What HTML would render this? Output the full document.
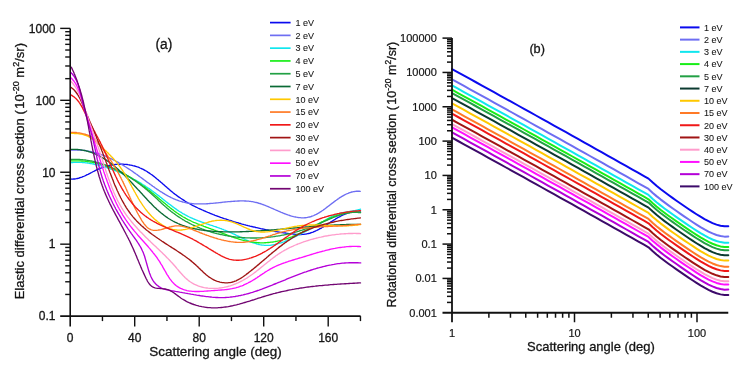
<!DOCTYPE html>
<html><head><meta charset="utf-8"><style>
html,body{margin:0;padding:0;background:#fff;}
svg{display:block;will-change:transform;}
text{font-family:"Liberation Sans",sans-serif;fill:#151515;stroke:#151515;stroke-width:0.3px;}
.ax{stroke:#111;stroke-width:1.6;}
.tk{stroke:#111;stroke-width:1.4;}
.axb{stroke:#111;stroke-width:1.8;}
.tkb{stroke:#111;stroke-width:1.5;}
.ta{font-size:12px;}
.tb{font-size:11px;stroke-width:0.2px;}
.lg{font-size:9px;stroke-width:0.08px;}
.ca{fill:none;stroke-width:1.35;stroke-linejoin:round;stroke-linecap:round;}
.cb{fill:none;stroke-width:2;stroke-linejoin:round;stroke-linecap:round;}
</style></head><body>
<svg width="744" height="372" viewBox="0 0 744 372">
<rect width="744" height="372" fill="#fff"/>
<path d="M70.7,179.0 71.6,179.1 72.6,179.1 73.6,179.0 74.5,179.0 75.5,178.8 76.4,178.7 77.3,178.5 78.2,178.3 79.2,178.0 80.1,177.7 81.0,177.4 81.9,177.1 82.8,176.7 83.7,176.4 84.6,176.0 85.4,175.6 86.3,175.2 87.2,174.7 88.1,174.3 89.0,173.8 89.9,173.4 90.8,172.9 91.6,172.5 92.5,172.0 93.4,171.5 94.3,171.1 95.2,170.6 96.1,170.2 97.0,169.7 97.9,169.3 98.8,168.9 99.8,168.5 100.7,168.1 101.6,167.8 102.6,167.4 103.5,167.1 104.5,166.8 105.4,166.5 106.4,166.2 107.4,165.9 108.3,165.7 109.3,165.5 110.3,165.3 111.3,165.1 112.3,164.9 113.2,164.8 114.2,164.6 115.2,164.5 116.2,164.4 117.2,164.3 118.2,164.3 119.2,164.2 120.2,164.2 121.2,164.2 122.1,164.2 123.1,164.2 124.1,164.3 125.1,164.3 126.1,164.4 127.0,164.5 128.0,164.7 129.0,164.8 129.9,165.0 130.9,165.1 131.9,165.3 132.8,165.6 133.7,165.8 134.7,166.0 135.6,166.3 136.5,166.6 137.4,166.9 138.4,167.2 139.3,167.6 140.1,168.0 141.0,168.4 141.9,168.8 142.8,169.2 143.6,169.6 144.5,170.1 145.3,170.6 146.2,171.0 147.0,171.5 147.8,172.1 148.6,172.6 149.4,173.1 150.2,173.7 151.0,174.3 151.8,174.8 152.6,175.4 153.4,176.0 154.2,176.6 155.0,177.3 155.8,177.9 156.5,178.5 157.3,179.2 158.1,179.8 158.8,180.5 159.6,181.1 160.4,181.8 161.1,182.4 161.9,183.1 162.7,183.8 163.4,184.4 164.2,185.1 164.9,185.8 165.7,186.4 166.5,187.1 167.2,187.8 168.0,188.4 168.8,189.1 169.5,189.8 170.3,190.4 171.1,191.1 171.9,191.7 172.6,192.3 173.4,193.0 174.2,193.6 175.0,194.2 175.8,194.8 176.6,195.4 177.4,196.0 178.2,196.6 179.0,197.2 179.9,197.7 180.7,198.3 181.5,198.8 182.4,199.4 183.2,199.9 184.0,200.4 184.9,201.0 185.7,201.5 186.6,202.0 187.4,202.5 188.3,203.0 189.1,203.4 190.0,203.9 190.9,204.4 191.7,204.9 192.6,205.3 193.5,205.8 194.4,206.2 195.2,206.7 196.1,207.1 197.0,207.5 197.9,208.0 198.8,208.4 199.7,208.8 200.6,209.2 201.5,209.6 202.4,210.0 203.3,210.4 204.2,210.8 205.1,211.2 206.0,211.6 206.9,212.0 207.8,212.4 208.7,212.7 209.6,213.1 210.5,213.5 211.4,213.8 212.3,214.2 213.3,214.6 214.2,214.9 215.1,215.3 216.0,215.6 216.9,216.0 217.9,216.3 218.8,216.6 219.7,217.0 220.6,217.3 221.6,217.6 222.5,218.0 223.4,218.3 224.3,218.6 225.3,218.9 226.2,219.2 227.1,219.5 228.1,219.8 229.0,220.1 230.0,220.4 230.9,220.7 231.8,221.0 232.8,221.3 233.7,221.6 234.7,221.9 235.6,222.2 236.6,222.5 237.5,222.7 238.5,223.0 239.4,223.3 240.4,223.5 241.3,223.8 242.3,224.1 243.2,224.3 244.2,224.6 245.2,224.8 246.1,225.1 247.1,225.3 248.0,225.6 249.0,225.8 250.0,226.1 250.9,226.3 251.9,226.5 252.9,226.8 253.8,227.0 254.8,227.2 255.8,227.5 256.8,227.7 257.7,227.9 258.7,228.1 259.7,228.3 260.7,228.6 261.7,228.8 262.6,229.0 263.6,229.2 264.6,229.4 265.6,229.6 266.6,229.8 267.6,230.0 268.5,230.2 269.5,230.4 270.5,230.6 271.5,230.8 272.5,230.9 273.5,231.1 274.5,231.3 275.5,231.5 276.5,231.6 277.5,231.8 278.5,232.0 279.5,232.1 280.4,232.3 281.4,232.5 282.4,232.6 283.4,232.8 284.4,232.9 285.4,233.0 286.4,233.2 287.4,233.3 288.4,233.5 289.4,233.6 290.4,233.7 291.4,233.8 292.4,233.9 293.3,234.1 294.3,234.2 295.3,234.3 296.3,234.3 297.3,234.4 298.2,234.4 299.2,234.5 300.2,234.5 301.1,234.5 302.1,234.4 303.1,234.4 304.0,234.3 304.9,234.2 305.9,234.1 306.8,233.9 307.7,233.7 308.6,233.5 309.5,233.3 310.4,233.0 311.3,232.7 312.2,232.4 313.1,232.1 313.9,231.7 314.8,231.3 315.7,230.9 316.6,230.5 317.4,230.1 318.3,229.7 319.1,229.2 320.0,228.7 320.8,228.3 321.7,227.8 322.5,227.3 323.4,226.8 324.2,226.2 325.0,225.7 325.9,225.2 326.7,224.7 327.6,224.1 328.4,223.6 329.2,223.0 330.1,222.5 330.9,221.9 331.8,221.4 332.6,220.9 333.5,220.3 334.3,219.8 335.2,219.3 336.0,218.7 336.9,218.2 337.7,217.7 338.6,217.2 339.5,216.8 340.4,216.3 341.2,215.8 342.1,215.4 343.0,215.0 343.9,214.6 344.8,214.2 345.7,213.8 346.6,213.5 347.6,213.2 348.5,212.9 349.4,212.7 350.4,212.4 351.4,212.2 352.3,212.1 353.3,211.9 354.3,211.8 355.3,211.8 356.3,211.7 357.4,211.8 358.4,211.8 359.5,211.9 360.5,212.0" stroke="#0a0aee" class="ca"/>
<path d="M70.4,150.1 71.4,150.1 72.4,150.0 73.5,150.0 74.5,150.0 75.5,150.0 76.5,150.0 77.6,150.0 78.6,150.0 79.6,150.1 80.6,150.2 81.6,150.2 82.5,150.3 83.5,150.4 84.5,150.5 85.5,150.7 86.4,150.8 87.4,151.0 88.4,151.1 89.3,151.3 90.3,151.5 91.2,151.7 92.2,151.9 93.1,152.2 94.1,152.4 95.0,152.6 95.9,152.9 96.9,153.2 97.8,153.4 98.7,153.7 99.6,154.0 100.5,154.3 101.5,154.7 102.4,155.0 103.3,155.3 104.2,155.7 105.1,156.0 106.0,156.4 106.9,156.8 107.7,157.2 108.6,157.6 109.5,158.0 110.4,158.4 111.3,158.8 112.1,159.2 113.0,159.7 113.9,160.1 114.7,160.5 115.6,161.0 116.5,161.5 117.3,161.9 118.2,162.4 119.0,162.9 119.9,163.4 120.7,163.9 121.6,164.4 122.4,164.9 123.3,165.4 124.1,165.9 125.0,166.5 125.8,167.0 126.6,167.5 127.5,168.1 128.3,168.6 129.1,169.2 130.0,169.7 130.8,170.3 131.6,170.8 132.5,171.4 133.3,172.0 134.1,172.6 134.9,173.1 135.7,173.7 136.6,174.3 137.4,174.9 138.2,175.5 139.0,176.1 139.8,176.7 140.6,177.3 141.5,177.9 142.3,178.5 143.1,179.1 143.9,179.7 144.7,180.3 145.5,180.9 146.3,181.5 147.1,182.1 148.0,182.7 148.8,183.3 149.6,183.9 150.4,184.5 151.2,185.0 152.0,185.6 152.8,186.2 153.7,186.8 154.5,187.4 155.3,188.0 156.1,188.5 156.9,189.1 157.8,189.6 158.6,190.2 159.4,190.7 160.2,191.3 161.1,191.8 161.9,192.3 162.7,192.9 163.6,193.4 164.4,193.9 165.2,194.4 166.1,194.9 166.9,195.3 167.8,195.8 168.6,196.3 169.5,196.7 170.3,197.1 171.2,197.6 172.1,198.0 172.9,198.4 173.8,198.8 174.7,199.2 175.6,199.5 176.4,199.9 177.3,200.2 178.2,200.5 179.1,200.9 180.0,201.2 180.9,201.4 181.8,201.7 182.7,202.0 183.7,202.2 184.6,202.4 185.5,202.6 186.4,202.8 187.4,203.0 188.3,203.1 189.3,203.3 190.2,203.4 191.2,203.5 192.1,203.6 193.1,203.7 194.0,203.8 195.0,203.8 196.0,203.9 197.0,203.9 197.9,203.9 198.9,203.9 199.9,203.9 200.9,203.9 201.9,203.9 202.9,203.9 203.9,203.9 204.9,203.8 205.9,203.8 206.9,203.7 207.9,203.7 208.9,203.6 209.9,203.5 210.9,203.4 211.9,203.3 212.9,203.3 213.9,203.2 214.9,203.1 215.9,203.0 216.9,202.9 218.0,202.8 219.0,202.7 220.0,202.6 221.0,202.5 222.0,202.4 223.0,202.2 224.0,202.1 225.0,202.0 226.0,201.9 227.0,201.8 228.0,201.7 229.0,201.6 230.0,201.6 231.0,201.5 232.0,201.4 233.0,201.3 234.0,201.2 235.0,201.2 236.0,201.1 237.0,201.1 238.0,201.0 239.0,201.0 239.9,200.9 240.9,200.9 241.9,200.9 242.9,200.9 243.8,200.9 244.8,201.0 245.8,201.0 246.7,201.1 247.7,201.1 248.7,201.2 249.6,201.3 250.6,201.4 251.5,201.6 252.5,201.7 253.4,201.9 254.4,202.1 255.3,202.3 256.2,202.5 257.2,202.7 258.1,203.0 259.0,203.3 260.0,203.5 260.9,203.8 261.8,204.2 262.8,204.5 263.7,204.8 264.6,205.2 265.5,205.5 266.4,205.9 267.4,206.3 268.3,206.7 269.2,207.1 270.1,207.5 271.0,207.9 272.0,208.3 272.9,208.7 273.8,209.1 274.7,209.5 275.6,209.9 276.6,210.3 277.5,210.7 278.4,211.1 279.4,211.5 280.3,211.9 281.2,212.3 282.2,212.7 283.1,213.1 284.0,213.5 285.0,213.8 285.9,214.2 286.9,214.5 287.8,214.9 288.8,215.2 289.7,215.5 290.7,215.8 291.6,216.1 292.6,216.3 293.6,216.6 294.5,216.8 295.5,217.0 296.4,217.2 297.4,217.3 298.3,217.5 299.3,217.6 300.2,217.7 301.2,217.8 302.1,217.8 303.0,217.8 303.9,217.8 304.9,217.7 305.8,217.7 306.7,217.6 307.6,217.4 308.5,217.2 309.4,217.0 310.3,216.8 311.2,216.5 312.0,216.2 312.9,215.9 313.8,215.5 314.6,215.1 315.5,214.7 316.3,214.3 317.2,213.8 318.0,213.4 318.9,212.9 319.7,212.4 320.5,211.8 321.4,211.3 322.2,210.7 323.0,210.2 323.8,209.6 324.7,209.0 325.5,208.4 326.3,207.8 327.1,207.1 327.9,206.5 328.8,205.9 329.6,205.3 330.4,204.6 331.2,204.0 332.0,203.4 332.9,202.7 333.7,202.1 334.5,201.5 335.3,200.9 336.2,200.3 337.0,199.7 337.8,199.1 338.7,198.5 339.5,197.9 340.3,197.4 341.2,196.9 342.0,196.3 342.9,195.8 343.8,195.3 344.6,194.9 345.5,194.4 346.4,194.0 347.2,193.6 348.1,193.3 349.0,192.9 349.9,192.6 350.8,192.3 351.7,192.0 352.7,191.8 353.6,191.6 354.5,191.5 355.5,191.3 356.4,191.2 357.4,191.2 358.4,191.2 359.3,191.2 360.3,191.3" stroke="#6e6ef2" class="ca"/>
<path d="M70.5,162.7 71.5,162.6 72.5,162.5 73.6,162.4 74.6,162.4 75.6,162.3 76.6,162.3 77.6,162.3 78.6,162.3 79.6,162.4 80.6,162.4 81.6,162.4 82.6,162.5 83.6,162.6 84.6,162.7 85.6,162.8 86.6,162.9 87.6,163.0 88.6,163.2 89.5,163.3 90.5,163.5 91.5,163.7 92.5,163.9 93.5,164.0 94.4,164.3 95.4,164.5 96.4,164.7 97.3,164.9 98.3,165.2 99.3,165.4 100.2,165.7 101.2,165.9 102.1,166.2 103.1,166.5 104.0,166.8 105.0,167.1 105.9,167.4 106.9,167.7 107.8,168.0 108.8,168.3 109.7,168.6 110.6,169.0 111.6,169.3 112.5,169.6 113.4,170.0 114.4,170.3 115.3,170.7 116.2,171.0 117.1,171.4 118.1,171.8 119.0,172.2 119.9,172.6 120.8,172.9 121.7,173.3 122.6,173.7 123.5,174.1 124.4,174.6 125.3,175.0 126.2,175.4 127.1,175.8 128.0,176.3 128.9,176.7 129.8,177.2 130.7,177.6 131.6,178.1 132.5,178.5 133.3,179.0 134.2,179.5 135.1,179.9 136.0,180.4 136.8,180.9 137.7,181.4 138.6,181.9 139.4,182.4 140.3,182.9 141.1,183.4 142.0,184.0 142.8,184.5 143.7,185.0 144.5,185.6 145.3,186.1 146.2,186.7 147.0,187.2 147.8,187.8 148.7,188.3 149.5,188.9 150.3,189.5 151.1,190.1 151.9,190.7 152.7,191.3 153.5,191.9 154.4,192.5 155.2,193.1 156.0,193.7 156.7,194.3 157.5,194.9 158.3,195.5 159.1,196.1 159.9,196.8 160.7,197.4 161.5,198.0 162.3,198.6 163.1,199.3 163.9,199.9 164.6,200.5 165.4,201.1 166.2,201.8 167.0,202.4 167.8,203.0 168.6,203.6 169.4,204.2 170.2,204.8 171.0,205.4 171.8,206.0 172.6,206.6 173.4,207.2 174.2,207.8 175.0,208.4 175.8,208.9 176.6,209.5 177.4,210.1 178.2,210.6 179.1,211.2 179.9,211.7 180.7,212.2 181.6,212.7 182.4,213.3 183.3,213.8 184.1,214.2 185.0,214.7 185.8,215.2 186.7,215.6 187.6,216.1 188.4,216.5 189.3,217.0 190.2,217.4 191.1,217.8 192.0,218.2 192.9,218.6 193.8,219.0 194.7,219.3 195.6,219.7 196.6,220.1 197.5,220.4 198.4,220.8 199.3,221.1 200.3,221.5 201.2,221.8 202.1,222.2 203.1,222.5 204.0,222.8 204.9,223.2 205.9,223.5 206.8,223.8 207.8,224.1 208.7,224.5 209.7,224.8 210.6,225.1 211.6,225.4 212.5,225.7 213.5,226.1 214.4,226.4 215.4,226.7 216.3,227.0 217.3,227.4 218.2,227.7 219.2,228.0 220.1,228.4 221.1,228.7 222.0,229.1 223.0,229.4 223.9,229.8 224.9,230.2 225.8,230.5 226.7,230.9 227.7,231.3 228.6,231.7 229.5,232.1 230.5,232.5 231.4,232.9 232.3,233.3 233.3,233.8 234.2,234.2 235.1,234.6 236.0,235.1 236.9,235.5 237.8,236.0 238.8,236.4 239.7,236.9 240.6,237.3 241.5,237.7 242.4,238.2 243.3,238.6 244.2,239.0 245.1,239.5 246.0,239.9 247.0,240.3 247.9,240.7 248.8,241.1 249.7,241.5 250.6,241.8 251.5,242.2 252.4,242.5 253.3,242.8 254.3,243.2 255.2,243.4 256.1,243.7 257.0,244.0 257.9,244.2 258.9,244.5 259.8,244.7 260.7,244.8 261.7,245.0 262.6,245.1 263.5,245.2 264.5,245.3 265.4,245.4 266.4,245.4 267.3,245.4 268.3,245.4 269.3,245.3 270.2,245.3 271.2,245.1 272.2,245.0 273.1,244.9 274.1,244.7 275.1,244.5 276.0,244.2 277.0,244.0 278.0,243.7 279.0,243.4 280.0,243.1 280.9,242.8 281.9,242.5 282.9,242.1 283.9,241.8 284.8,241.4 285.8,241.0 286.8,240.6 287.7,240.2 288.7,239.8 289.7,239.3 290.6,238.9 291.6,238.4 292.5,238.0 293.5,237.5 294.4,237.1 295.3,236.6 296.3,236.2 297.2,235.7 298.1,235.2 299.0,234.8 299.9,234.3 300.8,233.9 301.7,233.4 302.6,233.0 303.4,232.5 304.3,232.1 305.2,231.6 306.0,231.2 306.9,230.8 307.7,230.3 308.6,229.9 309.4,229.4 310.3,229.0 311.1,228.6 311.9,228.1 312.8,227.7 313.6,227.2 314.4,226.7 315.3,226.3 316.1,225.8 316.9,225.3 317.7,224.9 318.6,224.4 319.4,223.9 320.3,223.4 321.1,222.9 321.9,222.4 322.8,221.8 323.6,221.3 324.5,220.8 325.4,220.2 326.2,219.7 327.1,219.2 328.0,218.6 328.8,218.1 329.7,217.6 330.6,217.1 331.5,216.6 332.4,216.2 333.3,215.7 334.3,215.3 335.2,214.9 336.1,214.5 337.1,214.2 338.0,213.9 339.0,213.6 340.0,213.3 340.9,213.1 341.9,212.9 342.9,212.6 343.9,212.4 344.8,212.3 345.8,212.1 346.8,211.9 347.8,211.7 348.8,211.6 349.8,211.4 350.8,211.3 351.8,211.1 352.7,210.9 353.7,210.7 354.7,210.6 355.7,210.4 356.7,210.2 357.6,210.0 358.6,209.7 359.6,209.5 360.5,209.2" stroke="#10e6ee" class="ca"/>
<path d="M70.5,161.0 71.5,160.9 72.5,160.8 73.5,160.8 74.6,160.8 75.6,160.8 76.6,160.8 77.6,160.8 78.6,160.8 79.6,160.8 80.6,160.9 81.6,161.0 82.6,161.0 83.6,161.1 84.6,161.2 85.6,161.3 86.6,161.4 87.6,161.5 88.5,161.7 89.5,161.8 90.5,162.0 91.5,162.1 92.4,162.3 93.4,162.5 94.4,162.7 95.3,162.9 96.3,163.1 97.2,163.4 98.2,163.6 99.2,163.9 100.1,164.1 101.0,164.4 102.0,164.7 102.9,164.9 103.9,165.2 104.8,165.5 105.7,165.8 106.7,166.2 107.6,166.5 108.5,166.8 109.4,167.2 110.4,167.5 111.3,167.9 112.2,168.3 113.1,168.6 114.0,169.0 114.9,169.4 115.8,169.8 116.7,170.2 117.6,170.6 118.5,171.1 119.4,171.5 120.3,171.9 121.2,172.4 122.1,172.8 123.0,173.3 123.8,173.7 124.7,174.2 125.6,174.7 126.5,175.2 127.3,175.7 128.2,176.2 129.0,176.7 129.9,177.2 130.8,177.7 131.6,178.2 132.5,178.7 133.3,179.3 134.2,179.8 135.0,180.4 135.8,180.9 136.7,181.5 137.5,182.0 138.3,182.6 139.2,183.1 140.0,183.7 140.8,184.3 141.6,184.9 142.5,185.5 143.3,186.0 144.1,186.6 144.9,187.2 145.7,187.8 146.5,188.4 147.3,189.0 148.1,189.7 148.9,190.3 149.7,190.9 150.5,191.5 151.2,192.1 152.0,192.8 152.8,193.4 153.6,194.0 154.4,194.7 155.1,195.3 155.9,195.9 156.7,196.6 157.4,197.2 158.2,197.9 159.0,198.5 159.7,199.2 160.5,199.8 161.2,200.4 162.0,201.1 162.8,201.7 163.5,202.4 164.3,203.0 165.1,203.6 165.8,204.3 166.6,204.9 167.4,205.5 168.1,206.2 168.9,206.8 169.7,207.4 170.4,208.0 171.2,208.6 172.0,209.2 172.8,209.8 173.6,210.4 174.3,211.0 175.1,211.6 175.9,212.1 176.7,212.7 177.5,213.3 178.3,213.8 179.1,214.4 180.0,214.9 180.8,215.4 181.6,215.9 182.4,216.5 183.3,217.0 184.1,217.4 185.0,217.9 185.8,218.4 186.7,218.9 187.5,219.3 188.4,219.8 189.3,220.2 190.2,220.6 191.1,221.0 192.0,221.5 192.8,221.9 193.7,222.3 194.7,222.6 195.6,223.0 196.5,223.4 197.4,223.8 198.3,224.2 199.2,224.5 200.2,224.9 201.1,225.2 202.0,225.6 203.0,225.9 203.9,226.3 204.8,226.6 205.8,227.0 206.7,227.3 207.6,227.7 208.6,228.0 209.5,228.4 210.5,228.7 211.4,229.1 212.4,229.4 213.3,229.7 214.3,230.1 215.2,230.4 216.1,230.8 217.1,231.2 218.0,231.5 219.0,231.9 219.9,232.2 220.9,232.6 221.8,233.0 222.7,233.3 223.7,233.7 224.6,234.0 225.6,234.4 226.5,234.7 227.4,235.1 228.4,235.5 229.3,235.8 230.3,236.1 231.2,236.5 232.2,236.8 233.1,237.1 234.1,237.5 235.0,237.8 235.9,238.1 236.9,238.4 237.8,238.7 238.8,239.0 239.7,239.3 240.7,239.6 241.6,239.8 242.6,240.1 243.5,240.3 244.5,240.6 245.5,240.8 246.4,241.0 247.4,241.2 248.3,241.4 249.3,241.6 250.3,241.8 251.2,241.9 252.2,242.1 253.2,242.2 254.1,242.3 255.1,242.4 256.1,242.5 257.0,242.6 258.0,242.7 259.0,242.7 260.0,242.8 261.0,242.8 261.9,242.8 262.9,242.8 263.9,242.8 264.9,242.7 265.9,242.7 266.9,242.6 267.8,242.5 268.8,242.5 269.8,242.4 270.8,242.2 271.8,242.1 272.7,242.0 273.7,241.8 274.7,241.7 275.7,241.5 276.6,241.3 277.6,241.1 278.6,240.9 279.6,240.7 280.5,240.4 281.5,240.2 282.5,239.9 283.4,239.7 284.4,239.4 285.3,239.1 286.3,238.8 287.2,238.5 288.2,238.2 289.1,237.8 290.1,237.5 291.0,237.1 291.9,236.8 292.8,236.4 293.8,236.0 294.7,235.6 295.6,235.3 296.5,234.8 297.4,234.4 298.3,234.0 299.2,233.6 300.1,233.2 301.0,232.7 301.9,232.3 302.8,231.8 303.7,231.4 304.6,230.9 305.5,230.5 306.4,230.0 307.3,229.6 308.2,229.1 309.1,228.6 309.9,228.2 310.8,227.7 311.7,227.2 312.6,226.8 313.5,226.3 314.4,225.8 315.2,225.4 316.1,224.9 317.0,224.4 317.9,224.0 318.8,223.5 319.7,223.0 320.5,222.6 321.4,222.1 322.3,221.7 323.2,221.3 324.1,220.8 325.0,220.4 325.9,220.0 326.8,219.6 327.7,219.1 328.6,218.7 329.5,218.3 330.4,218.0 331.3,217.6 332.2,217.2 333.1,216.9 334.0,216.5 335.0,216.2 335.9,215.8 336.8,215.5 337.7,215.2 338.7,214.9 339.6,214.6 340.6,214.3 341.5,214.1 342.4,213.8 343.4,213.6 344.4,213.4 345.3,213.2 346.3,213.0 347.3,212.8 348.3,212.7 349.2,212.5 350.2,212.4 351.2,212.3 352.2,212.2 353.2,212.1 354.2,212.1 355.3,212.0 356.3,212.0 357.3,212.0 358.4,212.1 359.4,212.1 360.5,212.2" stroke="#18ee18" class="ca"/>
<path d="M70.4,159.5 71.5,159.5 72.5,159.4 73.5,159.4 74.5,159.4 75.5,159.4 76.5,159.4 77.5,159.4 78.5,159.4 79.5,159.5 80.5,159.6 81.5,159.6 82.5,159.7 83.4,159.8 84.4,159.9 85.4,160.0 86.4,160.2 87.4,160.3 88.3,160.5 89.3,160.6 90.3,160.8 91.3,161.0 92.2,161.2 93.2,161.4 94.1,161.6 95.1,161.9 96.0,162.1 97.0,162.4 98.0,162.6 98.9,162.9 99.8,163.2 100.8,163.5 101.7,163.8 102.7,164.1 103.6,164.4 104.5,164.7 105.4,165.0 106.4,165.4 107.3,165.7 108.2,166.1 109.1,166.5 110.0,166.8 110.9,167.2 111.8,167.6 112.7,168.0 113.6,168.4 114.5,168.8 115.4,169.3 116.3,169.7 117.2,170.1 118.1,170.6 119.0,171.0 119.9,171.5 120.7,172.0 121.6,172.4 122.5,172.9 123.3,173.4 124.2,173.9 125.1,174.4 125.9,174.9 126.8,175.4 127.6,175.9 128.4,176.4 129.3,177.0 130.1,177.5 131.0,178.0 131.8,178.6 132.6,179.1 133.4,179.7 134.3,180.2 135.1,180.8 135.9,181.4 136.7,181.9 137.5,182.5 138.3,183.1 139.1,183.7 139.9,184.3 140.7,184.9 141.5,185.5 142.2,186.1 143.0,186.7 143.8,187.3 144.6,187.9 145.3,188.6 146.1,189.2 146.9,189.8 147.6,190.5 148.4,191.1 149.1,191.8 149.9,192.4 150.6,193.1 151.4,193.7 152.1,194.4 152.8,195.1 153.6,195.7 154.3,196.4 155.0,197.1 155.8,197.8 156.5,198.5 157.2,199.1 157.9,199.8 158.6,200.5 159.4,201.2 160.1,201.8 160.8,202.5 161.5,203.2 162.3,203.9 163.0,204.5 163.7,205.2 164.5,205.8 165.2,206.5 165.9,207.1 166.7,207.8 167.4,208.4 168.2,209.0 168.9,209.7 169.7,210.3 170.5,210.9 171.2,211.5 172.0,212.1 172.8,212.7 173.6,213.3 174.3,213.8 175.1,214.4 175.9,215.0 176.7,215.5 177.5,216.1 178.3,216.6 179.1,217.2 180.0,217.7 180.8,218.3 181.6,218.8 182.4,219.3 183.3,219.8 184.1,220.3 184.9,220.8 185.8,221.3 186.6,221.7 187.5,222.2 188.4,222.7 189.2,223.1 190.1,223.6 191.0,224.0 191.8,224.5 192.7,224.9 193.6,225.3 194.5,225.7 195.4,226.1 196.3,226.5 197.2,226.9 198.1,227.3 199.0,227.7 199.9,228.1 200.8,228.4 201.8,228.8 202.7,229.1 203.6,229.5 204.5,229.8 205.5,230.1 206.4,230.5 207.3,230.8 208.3,231.1 209.2,231.4 210.2,231.7 211.1,232.0 212.1,232.3 213.0,232.5 214.0,232.8 215.0,233.1 215.9,233.3 216.9,233.6 217.9,233.8 218.8,234.0 219.8,234.3 220.8,234.5 221.7,234.7 222.7,234.9 223.7,235.1 224.7,235.3 225.7,235.5 226.7,235.7 227.6,235.8 228.6,236.0 229.6,236.2 230.6,236.3 231.6,236.5 232.6,236.6 233.6,236.7 234.6,236.8 235.6,237.0 236.6,237.1 237.6,237.2 238.6,237.3 239.6,237.4 240.6,237.5 241.6,237.5 242.6,237.6 243.6,237.7 244.6,237.7 245.6,237.8 246.6,237.8 247.6,237.9 248.6,237.9 249.6,237.9 250.6,238.0 251.6,238.0 252.6,238.0 253.6,238.0 254.6,238.0 255.6,238.0 256.6,238.0 257.6,237.9 258.6,237.9 259.6,237.9 260.6,237.8 261.6,237.8 262.6,237.7 263.6,237.6 264.6,237.6 265.6,237.5 266.6,237.4 267.6,237.3 268.6,237.2 269.6,237.1 270.5,237.0 271.5,236.9 272.5,236.8 273.5,236.7 274.5,236.5 275.5,236.4 276.4,236.2 277.4,236.1 278.4,235.9 279.3,235.8 280.3,235.6 281.3,235.4 282.2,235.2 283.2,235.1 284.2,234.9 285.1,234.7 286.1,234.5 287.0,234.2 288.0,234.0 288.9,233.8 289.9,233.6 290.8,233.3 291.8,233.1 292.7,232.9 293.7,232.6 294.6,232.3 295.5,232.1 296.5,231.8 297.4,231.5 298.3,231.3 299.3,231.0 300.2,230.7 301.1,230.4 302.1,230.1 303.0,229.8 303.9,229.5 304.8,229.2 305.8,228.8 306.7,228.5 307.6,228.2 308.5,227.9 309.5,227.5 310.4,227.2 311.3,226.8 312.2,226.5 313.1,226.1 314.0,225.8 315.0,225.4 315.9,225.0 316.8,224.7 317.7,224.3 318.6,223.9 319.5,223.5 320.5,223.1 321.4,222.7 322.3,222.3 323.2,221.9 324.1,221.5 325.0,221.1 325.9,220.7 326.9,220.3 327.8,219.9 328.7,219.5 329.6,219.1 330.5,218.7 331.4,218.3 332.4,217.9 333.3,217.5 334.2,217.1 335.1,216.8 336.1,216.4 337.0,216.1 337.9,215.7 338.9,215.4 339.8,215.1 340.8,214.8 341.7,214.5 342.7,214.2 343.6,213.9 344.6,213.7 345.5,213.5 346.5,213.3 347.5,213.1 348.4,212.9 349.4,212.8 350.4,212.6 351.4,212.5 352.4,212.4 353.4,212.4 354.4,212.3 355.4,212.3 356.4,212.3 357.4,212.4 358.4,212.5 359.4,212.6 360.5,212.7" stroke="#22a044" class="ca"/>
<path d="M70.4,149.4 71.5,149.4 72.5,149.4 73.6,149.3 74.6,149.4 75.6,149.4 76.7,149.4 77.7,149.5 78.7,149.6 79.7,149.7 80.7,149.8 81.7,150.0 82.7,150.1 83.6,150.3 84.6,150.5 85.6,150.7 86.5,151.0 87.5,151.2 88.4,151.5 89.4,151.8 90.3,152.1 91.2,152.4 92.1,152.7 93.0,153.1 93.9,153.4 94.8,153.8 95.7,154.2 96.6,154.6 97.5,155.0 98.4,155.5 99.3,155.9 100.1,156.4 101.0,156.9 101.8,157.3 102.7,157.8 103.5,158.4 104.4,158.9 105.2,159.4 106.0,159.9 106.8,160.5 107.7,161.1 108.5,161.6 109.3,162.2 110.1,162.8 110.9,163.4 111.7,164.0 112.5,164.6 113.2,165.2 114.0,165.9 114.8,166.5 115.6,167.2 116.3,167.8 117.1,168.5 117.8,169.1 118.6,169.8 119.3,170.5 120.1,171.2 120.8,171.8 121.6,172.5 122.3,173.2 123.0,173.9 123.7,174.6 124.5,175.3 125.2,176.0 125.9,176.7 126.6,177.5 127.3,178.2 128.0,178.9 128.7,179.6 129.4,180.3 130.1,181.1 130.8,181.8 131.5,182.5 132.2,183.2 132.9,184.0 133.5,184.7 134.2,185.4 134.9,186.2 135.6,186.9 136.3,187.7 136.9,188.4 137.6,189.1 138.3,189.9 139.0,190.6 139.7,191.3 140.3,192.1 141.0,192.8 141.7,193.6 142.4,194.3 143.0,195.1 143.7,195.8 144.4,196.5 145.1,197.3 145.8,198.0 146.5,198.7 147.1,199.5 147.8,200.2 148.5,200.9 149.2,201.7 149.9,202.4 150.6,203.1 151.3,203.8 152.0,204.5 152.7,205.3 153.4,206.0 154.1,206.7 154.9,207.4 155.6,208.0 156.3,208.7 157.0,209.4 157.8,210.1 158.5,210.7 159.3,211.4 160.0,212.0 160.8,212.7 161.5,213.3 162.3,213.9 163.1,214.5 163.8,215.1 164.6,215.7 165.4,216.3 166.2,216.9 167.0,217.4 167.8,218.0 168.6,218.5 169.4,219.0 170.3,219.5 171.1,220.0 172.0,220.5 172.8,221.0 173.7,221.4 174.5,221.9 175.4,222.3 176.3,222.7 177.2,223.1 178.0,223.5 178.9,223.9 179.8,224.3 180.7,224.7 181.7,225.0 182.6,225.4 183.5,225.7 184.4,226.0 185.4,226.3 186.3,226.6 187.2,226.9 188.2,227.2 189.1,227.4 190.1,227.7 191.1,227.9 192.0,228.2 193.0,228.4 194.0,228.6 195.0,228.8 195.9,229.0 196.9,229.2 197.9,229.4 198.9,229.6 199.9,229.8 200.9,229.9 201.9,230.1 202.9,230.2 203.9,230.3 204.9,230.5 205.9,230.6 206.9,230.7 207.9,230.8 208.9,230.9 209.9,231.0 211.0,231.1 212.0,231.2 213.0,231.3 214.0,231.3 215.0,231.4 216.1,231.5 217.1,231.5 218.1,231.6 219.1,231.6 220.1,231.7 221.2,231.7 222.2,231.7 223.2,231.8 224.2,231.8 225.3,231.8 226.3,231.8 227.3,231.8 228.3,231.9 229.3,231.9 230.3,231.9 231.3,231.9 232.4,231.9 233.4,231.9 234.4,231.8 235.4,231.8 236.4,231.8 237.4,231.8 238.4,231.8 239.4,231.8 240.4,231.7 241.4,231.7 242.4,231.7 243.4,231.6 244.4,231.6 245.4,231.6 246.4,231.5 247.4,231.5 248.4,231.5 249.4,231.4 250.4,231.4 251.4,231.3 252.3,231.3 253.3,231.2 254.3,231.2 255.3,231.1 256.3,231.0 257.3,231.0 258.3,230.9 259.3,230.9 260.2,230.8 261.2,230.7 262.2,230.7 263.2,230.6 264.2,230.5 265.2,230.4 266.1,230.4 267.1,230.3 268.1,230.2 269.1,230.2 270.1,230.1 271.1,230.0 272.0,229.9 273.0,229.8 274.0,229.8 275.0,229.7 276.0,229.6 277.0,229.5 277.9,229.4 278.9,229.3 279.9,229.3 280.9,229.2 281.9,229.1 282.9,229.0 283.8,228.9 284.8,228.8 285.8,228.7 286.8,228.7 287.8,228.6 288.8,228.5 289.8,228.4 290.7,228.3 291.7,228.2 292.7,228.1 293.7,228.0 294.7,228.0 295.7,227.9 296.7,227.8 297.7,227.7 298.7,227.6 299.7,227.5 300.7,227.4 301.6,227.4 302.6,227.3 303.6,227.2 304.6,227.1 305.6,227.0 306.6,226.9 307.6,226.9 308.6,226.8 309.6,226.7 310.6,226.6 311.6,226.5 312.6,226.5 313.6,226.4 314.6,226.3 315.6,226.2 316.6,226.2 317.6,226.1 318.6,226.0 319.6,225.9 320.6,225.9 321.6,225.8 322.6,225.7 323.6,225.7 324.6,225.6 325.6,225.5 326.6,225.5 327.6,225.4 328.6,225.4 329.6,225.3 330.6,225.2 331.6,225.2 332.6,225.1 333.6,225.1 334.6,225.0 335.6,225.0 336.6,224.9 337.6,224.9 338.6,224.8 339.6,224.8 340.6,224.7 341.6,224.7 342.6,224.7 343.6,224.6 344.6,224.6 345.6,224.6 346.6,224.5 347.6,224.5 348.6,224.5 349.5,224.5 350.5,224.4 351.5,224.4 352.5,224.4 353.5,224.4 354.5,224.4 355.5,224.4 356.5,224.3 357.5,224.3 358.5,224.3 359.5,224.3 360.5,224.3" stroke="#0a6a34" class="ca"/>
<path d="M70.4,133.4 71.5,133.4 72.6,133.4 73.7,133.4 74.7,133.5 75.8,133.6 76.9,133.6 78.0,133.7 79.1,133.9 80.2,134.0 81.3,134.2 82.4,134.4 83.4,134.7 84.4,135.0 85.4,135.3 86.4,135.6 87.4,136.0 88.3,136.5 89.3,136.9 90.1,137.5 91.0,138.0 91.8,138.6 92.7,139.2 93.5,139.9 94.3,140.5 95.1,141.2 95.9,141.9 96.6,142.6 97.4,143.2 98.2,143.9 99.0,144.6 99.8,145.4 100.6,146.1 101.4,146.8 102.2,147.5 102.9,148.2 103.7,148.9 104.5,149.7 105.3,150.4 106.1,151.1 106.8,151.9 107.6,152.6 108.4,153.4 109.1,154.2 109.9,154.9 110.6,155.7 111.3,156.5 112.1,157.3 112.8,158.0 113.5,158.8 114.2,159.6 114.9,160.4 115.6,161.2 116.3,162.1 117.0,162.9 117.6,163.7 118.3,164.5 118.9,165.4 119.6,166.2 120.2,167.1 120.8,168.0 121.4,168.8 122.0,169.7 122.6,170.6 123.1,171.4 123.7,172.3 124.3,173.2 124.8,174.1 125.4,175.0 125.9,175.9 126.4,176.8 126.9,177.7 127.5,178.7 128.0,179.6 128.5,180.5 129.0,181.4 129.5,182.3 130.0,183.3 130.5,184.2 131.0,185.1 131.5,186.0 132.0,187.0 132.5,187.9 133.0,188.8 133.5,189.7 134.0,190.7 134.5,191.6 135.1,192.5 135.6,193.5 136.1,194.4 136.6,195.3 137.1,196.2 137.7,197.1 138.2,198.1 138.7,199.0 139.3,199.9 139.8,200.8 140.4,201.7 141.0,202.6 141.6,203.5 142.2,204.4 142.8,205.3 143.4,206.1 144.0,207.0 144.6,207.9 145.3,208.8 145.9,209.6 146.6,210.5 147.3,211.3 148.0,212.2 148.7,213.0 149.4,213.8 150.1,214.6 150.9,215.4 151.6,216.2 152.4,217.0 153.2,217.7 153.9,218.5 154.7,219.2 155.5,219.9 156.4,220.6 157.2,221.3 158.0,222.0 158.9,222.6 159.7,223.2 160.6,223.9 161.5,224.4 162.4,225.0 163.3,225.5 164.2,226.0 165.1,226.5 166.0,227.0 166.9,227.4 167.8,227.8 168.8,228.2 169.7,228.5 170.7,228.8 171.7,229.1 172.6,229.4 173.6,229.6 174.6,229.7 175.6,229.9 176.5,230.0 177.5,230.1 178.5,230.1 179.5,230.1 180.6,230.1 181.6,230.0 182.6,229.9 183.6,229.7 184.6,229.6 185.7,229.4 186.7,229.2 187.7,228.9 188.8,228.6 189.8,228.4 190.9,228.0 191.9,227.7 193.0,227.4 194.0,227.0 195.1,226.7 196.1,226.3 197.2,225.9 198.3,225.6 199.3,225.2 200.4,224.8 201.4,224.4 202.5,224.1 203.5,223.7 204.6,223.3 205.7,223.0 206.7,222.7 207.8,222.3 208.8,222.0 209.9,221.7 210.9,221.5 212.0,221.2 213.0,221.0 214.1,220.8 215.1,220.7 216.2,220.5 217.2,220.4 218.2,220.3 219.3,220.3 220.3,220.2 221.3,220.2 222.4,220.3 223.4,220.3 224.4,220.4 225.4,220.5 226.4,220.7 227.5,220.9 228.5,221.1 229.5,221.3 230.5,221.5 231.5,221.8 232.5,222.2 233.5,222.5 234.5,222.9 235.5,223.3 236.5,223.7 237.5,224.1 238.5,224.5 239.5,225.0 240.5,225.4 241.5,225.9 242.5,226.3 243.5,226.8 244.5,227.3 245.5,227.7 246.5,228.1 247.5,228.6 248.5,229.0 249.5,229.4 250.5,229.8 251.5,230.1 252.5,230.5 253.5,230.8 254.5,231.0 255.6,231.3 256.6,231.5 257.6,231.6 258.6,231.8 259.6,231.9 260.7,232.0 261.7,232.0 262.7,232.0 263.7,232.0 264.8,232.0 265.8,231.9 266.8,231.9 267.9,231.8 268.9,231.7 269.9,231.5 271.0,231.4 272.0,231.2 273.0,231.1 274.1,230.9 275.1,230.7 276.1,230.5 277.2,230.3 278.2,230.0 279.3,229.8 280.3,229.6 281.3,229.4 282.4,229.1 283.4,228.9 284.4,228.7 285.5,228.4 286.5,228.2 287.5,228.0 288.6,227.8 289.6,227.5 290.7,227.3 291.7,227.1 292.7,226.9 293.8,226.7 294.8,226.5 295.9,226.3 296.9,226.2 297.9,226.0 299.0,225.9 300.0,225.7 301.1,225.6 302.1,225.5 303.2,225.4 304.2,225.3 305.3,225.2 306.3,225.2 307.4,225.1 308.4,225.1 309.5,225.0 310.6,225.0 311.6,225.0 312.7,225.0 313.7,225.0 314.8,225.0 315.9,225.0 316.9,225.0 318.0,225.0 319.1,225.0 320.1,225.1 321.2,225.1 322.3,225.1 323.3,225.2 324.4,225.2 325.5,225.3 326.5,225.3 327.6,225.3 328.7,225.4 329.7,225.4 330.8,225.5 331.9,225.5 332.9,225.6 334.0,225.6 335.1,225.6 336.1,225.7 337.2,225.7 338.3,225.7 339.3,225.7 340.4,225.8 341.5,225.8 342.5,225.8 343.6,225.8 344.7,225.8 345.7,225.8 346.8,225.7 347.8,225.7 348.9,225.7 350.0,225.6 351.0,225.5 352.1,225.5 353.1,225.4 354.2,225.3 355.2,225.2 356.3,225.1 357.3,225.0 358.4,224.8 359.4,224.7 360.5,224.5" stroke="#ffc800" class="ca"/>
<path d="M70.4,132.3 71.5,132.3 72.6,132.3 73.7,132.4 74.8,132.5 75.9,132.5 77.0,132.7 78.2,132.8 79.3,132.9 80.4,133.1 81.5,133.3 82.6,133.6 83.7,133.8 84.8,134.1 85.9,134.5 86.9,134.8 87.9,135.2 88.9,135.6 89.9,136.1 90.9,136.6 91.8,137.1 92.7,137.7 93.5,138.4 94.3,139.0 95.1,139.7 95.9,140.5 96.6,141.2 97.3,142.0 98.0,142.8 98.7,143.6 99.4,144.5 100.0,145.3 100.7,146.2 101.3,147.1 102.0,147.9 102.6,148.8 103.3,149.7 103.9,150.6 104.6,151.5 105.2,152.3 105.8,153.2 106.5,154.1 107.1,155.0 107.7,155.9 108.3,156.8 109.0,157.8 109.6,158.7 110.2,159.6 110.8,160.5 111.4,161.4 112.0,162.4 112.6,163.3 113.2,164.2 113.7,165.2 114.3,166.1 114.9,167.0 115.4,168.0 116.0,168.9 116.6,169.9 117.1,170.8 117.6,171.8 118.2,172.7 118.7,173.7 119.2,174.7 119.7,175.6 120.2,176.6 120.8,177.6 121.2,178.5 121.7,179.5 122.2,180.5 122.7,181.4 123.2,182.4 123.6,183.4 124.1,184.4 124.5,185.4 125.0,186.3 125.5,187.3 125.9,188.3 126.4,189.3 126.8,190.3 127.2,191.3 127.7,192.2 128.1,193.2 128.6,194.2 129.0,195.2 129.5,196.2 129.9,197.2 130.4,198.2 130.8,199.2 131.3,200.2 131.7,201.1 132.2,202.1 132.6,203.1 133.1,204.1 133.6,205.1 134.0,206.1 134.5,207.1 135.0,208.1 135.5,209.1 136.0,210.0 136.5,211.0 137.0,212.0 137.5,213.0 138.1,214.0 138.6,215.0 139.2,215.9 139.7,216.9 140.3,217.9 140.9,218.9 141.4,219.8 142.0,220.8 142.7,221.8 143.3,222.7 143.9,223.6 144.6,224.5 145.3,225.3 146.0,226.1 146.7,226.9 147.5,227.6 148.3,228.2 149.1,228.7 149.9,229.2 150.8,229.6 151.7,229.9 152.7,230.2 153.6,230.3 154.6,230.4 155.7,230.4 156.7,230.3 157.8,230.2 158.8,230.0 159.9,229.8 161.0,229.6 162.1,229.3 163.2,229.0 164.3,228.7 165.4,228.4 166.5,228.0 167.5,227.7 168.6,227.4 169.7,227.0 170.8,226.8 171.9,226.5 173.0,226.3 174.0,226.1 175.1,225.9 176.2,225.9 177.2,225.8 178.3,225.8 179.3,225.9 180.4,226.0 181.4,226.2 182.4,226.3 183.5,226.6 184.5,226.8 185.5,227.1 186.5,227.4 187.6,227.7 188.6,228.1 189.6,228.5 190.6,228.8 191.7,229.2 192.7,229.6 193.7,230.1 194.7,230.5 195.8,230.9 196.8,231.3 197.8,231.7 198.9,232.1 199.9,232.6 201.0,233.0 202.0,233.4 203.0,233.8 204.1,234.2 205.1,234.6 206.2,235.0 207.2,235.4 208.3,235.7 209.3,236.1 210.4,236.5 211.5,236.8 212.5,237.2 213.6,237.5 214.6,237.9 215.7,238.2 216.8,238.5 217.8,238.9 218.9,239.2 220.0,239.4 221.0,239.7 222.1,240.0 223.2,240.2 224.2,240.5 225.3,240.7 226.4,240.9 227.5,241.1 228.5,241.3 229.6,241.5 230.7,241.7 231.7,241.8 232.8,241.9 233.9,242.1 234.9,242.2 236.0,242.2 237.1,242.3 238.2,242.3 239.2,242.3 240.3,242.4 241.4,242.3 242.4,242.3 243.5,242.2 244.6,242.2 245.6,242.1 246.7,241.9 247.8,241.8 248.8,241.6 249.9,241.4 250.9,241.2 252.0,241.0 253.1,240.8 254.1,240.5 255.2,240.3 256.2,240.0 257.3,239.7 258.4,239.4 259.4,239.1 260.5,238.8 261.5,238.5 262.6,238.2 263.6,237.8 264.7,237.5 265.7,237.2 266.8,236.8 267.9,236.5 268.9,236.1 270.0,235.8 271.0,235.4 272.1,235.1 273.1,234.7 274.2,234.4 275.3,234.1 276.3,233.7 277.4,233.4 278.4,233.1 279.5,232.8 280.5,232.5 281.6,232.2 282.7,231.9 283.7,231.7 284.8,231.4 285.9,231.2 286.9,230.9 288.0,230.7 289.0,230.5 290.1,230.3 291.2,230.1 292.2,229.9 293.3,229.7 294.4,229.5 295.4,229.3 296.5,229.2 297.6,229.0 298.7,228.9 299.7,228.7 300.8,228.6 301.9,228.4 302.9,228.3 304.0,228.2 305.1,228.1 306.2,228.0 307.2,227.9 308.3,227.8 309.4,227.7 310.5,227.6 311.5,227.5 312.6,227.4 313.7,227.3 314.8,227.2 315.8,227.2 316.9,227.1 318.0,227.0 319.1,226.9 320.2,226.9 321.2,226.8 322.3,226.8 323.4,226.7 324.5,226.6 325.6,226.6 326.7,226.5 327.7,226.5 328.8,226.4 329.9,226.4 331.0,226.3 332.1,226.3 333.2,226.2 334.3,226.1 335.4,226.1 336.4,226.0 337.5,226.0 338.6,225.9 339.7,225.9 340.8,225.8 341.9,225.7 343.0,225.7 344.1,225.6 345.2,225.5 346.3,225.5 347.4,225.4 348.5,225.3 349.6,225.2 350.7,225.1 351.8,225.0 352.9,224.9 354.0,224.9 355.1,224.7 356.2,224.6 357.3,224.5 358.4,224.4 359.5,224.3 360.6,224.2" stroke="#ff7a26" class="ca"/>
<path d="M70.7,94.8 71.8,95.4 72.8,96.1 73.8,96.7 74.7,97.5 75.6,98.2 76.4,99.1 77.2,99.9 77.9,100.8 78.7,101.7 79.3,102.6 80.0,103.6 80.6,104.6 81.2,105.6 81.8,106.7 82.4,107.7 82.9,108.8 83.5,109.8 84.0,110.9 84.5,112.0 85.1,113.1 85.6,114.2 86.1,115.3 86.7,116.4 87.2,117.5 87.7,118.6 88.3,119.6 88.8,120.7 89.4,121.8 89.9,122.9 90.5,123.9 91.1,125.0 91.6,126.0 92.2,127.1 92.8,128.2 93.3,129.2 93.9,130.3 94.5,131.3 95.0,132.4 95.6,133.5 96.2,134.5 96.7,135.6 97.3,136.6 97.9,137.7 98.4,138.7 99.0,139.8 99.5,140.9 100.1,141.9 100.6,143.0 101.1,144.1 101.7,145.1 102.2,146.2 102.7,147.3 103.2,148.4 103.7,149.4 104.2,150.5 104.7,151.6 105.2,152.7 105.7,153.8 106.2,154.9 106.7,156.0 107.2,157.1 107.7,158.2 108.1,159.3 108.6,160.4 109.1,161.5 109.6,162.6 110.0,163.7 110.5,164.8 111.0,165.9 111.5,167.0 111.9,168.0 112.4,169.1 112.9,170.2 113.4,171.3 113.9,172.4 114.4,173.5 114.9,174.6 115.4,175.7 115.9,176.8 116.4,177.8 116.9,178.9 117.4,180.0 118.0,181.1 118.5,182.1 119.1,183.2 119.6,184.3 120.2,185.3 120.8,186.4 121.3,187.4 121.9,188.4 122.5,189.5 123.2,190.5 123.8,191.5 124.4,192.6 125.1,193.6 125.7,194.6 126.4,195.6 127.1,196.6 127.8,197.5 128.5,198.5 129.2,199.5 129.9,200.4 130.6,201.4 131.4,202.3 132.1,203.3 132.9,204.2 133.7,205.1 134.5,206.0 135.3,206.9 136.1,207.7 136.9,208.6 137.8,209.5 138.6,210.3 139.5,211.1 140.4,211.9 141.3,212.7 142.2,213.5 143.1,214.3 144.0,215.0 144.9,215.7 145.9,216.4 146.8,217.1 147.8,217.8 148.8,218.5 149.8,219.1 150.8,219.8 151.8,220.4 152.8,221.0 153.9,221.6 154.9,222.2 156.0,222.7 157.0,223.3 158.1,223.8 159.2,224.4 160.2,224.9 161.3,225.4 162.4,225.9 163.5,226.4 164.6,226.9 165.7,227.4 166.9,227.8 168.0,228.3 169.1,228.8 170.2,229.3 171.3,229.7 172.5,230.2 173.6,230.6 174.7,231.1 175.8,231.6 177.0,232.0 178.1,232.5 179.2,232.9 180.3,233.4 181.4,233.9 182.5,234.4 183.6,234.8 184.7,235.3 185.8,235.8 186.9,236.3 188.0,236.8 189.1,237.3 190.2,237.9 191.2,238.4 192.3,238.9 193.3,239.5 194.4,240.1 195.4,240.6 196.5,241.2 197.5,241.8 198.5,242.4 199.5,243.0 200.6,243.6 201.6,244.2 202.6,244.8 203.6,245.4 204.6,246.0 205.7,246.6 206.7,247.2 207.7,247.8 208.7,248.5 209.7,249.1 210.7,249.7 211.8,250.3 212.8,250.9 213.8,251.6 214.9,252.2 215.9,252.8 217.0,253.4 218.0,254.0 219.1,254.6 220.1,255.2 221.2,255.8 222.3,256.3 223.4,256.9 224.5,257.4 225.6,257.9 226.7,258.3 227.8,258.7 228.9,259.1 230.1,259.4 231.2,259.6 232.4,259.8 233.5,260.0 234.7,260.1 235.9,260.2 237.0,260.2 238.2,260.2 239.4,260.2 240.6,260.1 241.7,260.0 242.9,259.8 244.1,259.6 245.2,259.4 246.4,259.2 247.5,258.9 248.7,258.6 249.8,258.2 251.0,257.9 252.1,257.5 253.2,257.1 254.3,256.7 255.4,256.3 256.5,255.8 257.5,255.4 258.6,254.9 259.7,254.4 260.7,253.8 261.8,253.3 262.8,252.7 263.9,252.2 264.9,251.6 266.0,251.0 267.0,250.4 268.0,249.7 269.0,249.1 270.0,248.5 271.0,247.8 272.1,247.2 273.1,246.5 274.1,245.8 275.1,245.1 276.1,244.4 277.0,243.7 278.0,243.0 279.0,242.3 280.0,241.6 281.0,240.9 282.0,240.2 283.0,239.5 284.0,238.8 285.0,238.1 286.0,237.4 287.0,236.7 288.0,236.0 289.0,235.3 290.0,234.6 291.0,233.9 292.0,233.2 293.0,232.5 294.0,231.8 295.0,231.2 296.0,230.5 297.0,229.9 298.1,229.2 299.1,228.6 300.1,228.0 301.2,227.4 302.2,226.8 303.3,226.2 304.3,225.7 305.4,225.1 306.4,224.6 307.5,224.0 308.6,223.5 309.7,223.0 310.8,222.5 311.8,222.0 312.9,221.5 314.0,221.1 315.1,220.6 316.2,220.2 317.4,219.7 318.5,219.3 319.6,218.9 320.7,218.5 321.8,218.1 323.0,217.7 324.1,217.4 325.2,217.0 326.4,216.7 327.5,216.3 328.6,216.0 329.8,215.7 330.9,215.4 332.1,215.1 333.3,214.8 334.4,214.5 335.6,214.2 336.7,214.0 337.9,213.7 339.1,213.5 340.3,213.2 341.4,213.0 342.6,212.8 343.8,212.6 345.0,212.4 346.2,212.2 347.3,212.0 348.5,211.8 349.7,211.7 350.9,211.5 352.1,211.4 353.3,211.2 354.5,211.1 355.7,211.0 356.9,210.9 358.1,210.8 359.3,210.7 360.5,210.6" stroke="#f01818" class="ca"/>
<path d="M70.8,87.2 71.8,88.0 72.8,88.8 73.7,89.6 74.6,90.5 75.4,91.5 76.2,92.5 76.9,93.5 77.6,94.5 78.3,95.6 78.9,96.7 79.6,97.9 80.2,99.0 80.7,100.2 81.3,101.4 81.8,102.6 82.4,103.8 82.9,105.0 83.4,106.2 83.9,107.5 84.4,108.7 84.9,109.9 85.4,111.1 85.9,112.3 86.4,113.5 86.9,114.7 87.5,115.9 88.0,117.1 88.5,118.3 89.0,119.5 89.5,120.7 90.0,121.9 90.5,123.1 91.0,124.3 91.5,125.4 92.0,126.6 92.5,127.8 93.0,129.0 93.5,130.2 94.0,131.4 94.5,132.5 95.0,133.7 95.5,134.9 96.0,136.1 96.5,137.3 96.9,138.5 97.4,139.6 97.9,140.8 98.4,142.0 98.9,143.2 99.4,144.4 99.8,145.6 100.3,146.8 100.8,148.0 101.3,149.2 101.7,150.4 102.2,151.6 102.7,152.8 103.1,154.0 103.6,155.2 104.0,156.4 104.5,157.6 105.0,158.9 105.4,160.1 105.9,161.3 106.3,162.5 106.8,163.8 107.2,165.0 107.7,166.2 108.1,167.5 108.6,168.7 109.0,169.9 109.5,171.2 109.9,172.4 110.4,173.6 110.9,174.9 111.3,176.1 111.8,177.3 112.3,178.6 112.8,179.8 113.3,181.0 113.7,182.2 114.2,183.4 114.7,184.7 115.2,185.9 115.8,187.1 116.3,188.3 116.8,189.5 117.3,190.7 117.9,191.8 118.4,193.0 119.0,194.2 119.5,195.4 120.1,196.5 120.7,197.7 121.3,198.8 121.9,200.0 122.5,201.1 123.1,202.2 123.8,203.4 124.4,204.5 125.1,205.6 125.7,206.7 126.4,207.8 127.1,208.8 127.8,209.9 128.6,211.0 129.3,212.0 130.0,213.0 130.8,214.1 131.6,215.1 132.4,216.1 133.2,217.1 134.0,218.0 134.9,219.0 135.7,219.9 136.6,220.9 137.5,221.8 138.4,222.7 139.3,223.6 140.3,224.5 141.2,225.4 142.2,226.3 143.2,227.1 144.1,228.0 145.1,228.8 146.1,229.7 147.1,230.5 148.2,231.3 149.2,232.1 150.2,232.9 151.3,233.7 152.3,234.5 153.4,235.2 154.5,236.0 155.5,236.8 156.6,237.5 157.7,238.3 158.8,239.0 159.9,239.8 161.0,240.5 162.0,241.2 163.1,241.9 164.2,242.6 165.3,243.4 166.4,244.1 167.5,244.8 168.6,245.5 169.7,246.2 170.8,246.9 171.9,247.6 172.9,248.2 174.0,248.9 175.1,249.6 176.2,250.3 177.2,251.0 178.3,251.7 179.3,252.4 180.4,253.1 181.4,253.8 182.5,254.6 183.5,255.3 184.6,256.0 185.6,256.8 186.6,257.5 187.6,258.3 188.7,259.0 189.7,259.8 190.7,260.6 191.7,261.4 192.6,262.2 193.6,263.1 194.6,263.9 195.6,264.8 196.5,265.7 197.5,266.5 198.4,267.5 199.4,268.4 200.3,269.3 201.2,270.2 202.2,271.1 203.1,272.0 204.1,272.9 205.1,273.8 206.1,274.7 207.1,275.5 208.1,276.3 209.2,277.1 210.3,277.8 211.4,278.5 212.5,279.2 213.7,279.8 214.9,280.4 216.1,280.9 217.3,281.3 218.6,281.7 219.9,282.1 221.2,282.3 222.4,282.6 223.7,282.7 225.0,282.8 226.3,282.9 227.6,282.8 228.9,282.7 230.1,282.6 231.4,282.3 232.6,282.0 233.8,281.7 234.9,281.2 236.1,280.8 237.2,280.2 238.3,279.7 239.5,279.0 240.6,278.4 241.6,277.7 242.7,277.0 243.8,276.2 244.8,275.5 245.9,274.7 246.9,273.9 248.0,273.1 249.0,272.3 250.0,271.5 251.0,270.7 252.0,269.9 253.1,269.1 254.1,268.2 255.1,267.4 256.1,266.6 257.1,265.7 258.1,264.9 259.1,264.1 260.0,263.2 261.0,262.4 262.0,261.5 263.0,260.7 264.0,259.9 265.0,259.0 266.0,258.2 267.0,257.3 268.0,256.5 268.9,255.6 269.9,254.8 270.9,254.0 271.9,253.1 272.9,252.3 273.9,251.5 274.9,250.7 275.9,249.9 276.9,249.0 277.9,248.2 278.9,247.4 279.9,246.6 281.0,245.9 282.0,245.1 283.0,244.3 284.0,243.6 285.1,242.8 286.1,242.1 287.2,241.3 288.2,240.6 289.3,239.9 290.4,239.2 291.4,238.5 292.5,237.8 293.6,237.1 294.7,236.5 295.8,235.8 297.0,235.2 298.1,234.5 299.2,233.9 300.4,233.3 301.5,232.8 302.7,232.2 303.9,231.6 305.0,231.1 306.2,230.6 307.4,230.1 308.6,229.6 309.8,229.1 311.1,228.6 312.3,228.1 313.5,227.7 314.7,227.2 316.0,226.8 317.2,226.4 318.5,226.0 319.7,225.6 321.0,225.2 322.3,224.8 323.5,224.5 324.8,224.1 326.1,223.8 327.4,223.5 328.6,223.2 329.9,222.8 331.2,222.5 332.5,222.3 333.8,222.0 335.1,221.7 336.3,221.4 337.6,221.2 338.9,220.9 340.2,220.7 341.5,220.5 342.8,220.3 344.0,220.1 345.3,219.9 346.6,219.7 347.9,219.5 349.1,219.3 350.4,219.1 351.7,218.9 352.9,218.8 354.2,218.6 355.4,218.5 356.7,218.3 357.9,218.2 359.1,218.1 360.4,217.9" stroke="#a01414" class="ca"/>
<path d="M71.1,81.5 72.0,82.5 72.8,83.4 73.6,84.5 74.4,85.5 75.1,86.6 75.8,87.7 76.5,88.8 77.1,89.9 77.7,91.1 78.3,92.2 78.8,93.4 79.4,94.6 79.9,95.8 80.4,97.1 80.9,98.3 81.4,99.6 81.8,100.8 82.3,102.1 82.8,103.3 83.2,104.6 83.7,105.8 84.1,107.1 84.6,108.3 85.0,109.6 85.5,110.8 85.9,112.1 86.4,113.3 86.8,114.6 87.3,115.8 87.7,117.1 88.2,118.3 88.6,119.6 89.0,120.8 89.5,122.1 89.9,123.3 90.4,124.6 90.8,125.8 91.3,127.1 91.7,128.3 92.1,129.6 92.6,130.8 93.0,132.0 93.4,133.3 93.9,134.5 94.3,135.8 94.7,137.0 95.2,138.3 95.6,139.5 96.0,140.8 96.5,142.0 96.9,143.3 97.3,144.6 97.7,145.8 98.2,147.1 98.6,148.3 99.0,149.6 99.4,150.8 99.8,152.1 100.2,153.4 100.7,154.6 101.1,155.9 101.5,157.2 101.9,158.5 102.3,159.7 102.7,161.0 103.1,162.3 103.5,163.6 103.9,164.8 104.4,166.1 104.8,167.4 105.2,168.7 105.6,169.9 106.0,171.2 106.4,172.5 106.9,173.7 107.3,175.0 107.7,176.3 108.2,177.6 108.6,178.8 109.1,180.1 109.5,181.3 110.0,182.6 110.5,183.8 110.9,185.1 111.4,186.3 111.9,187.6 112.4,188.8 112.9,190.0 113.4,191.3 113.9,192.5 114.5,193.7 115.0,194.9 115.5,196.1 116.1,197.3 116.7,198.5 117.2,199.7 117.8,200.9 118.4,202.0 119.1,203.2 119.7,204.4 120.3,205.5 121.0,206.7 121.6,207.8 122.3,208.9 123.0,210.0 123.7,211.1 124.4,212.2 125.2,213.3 125.9,214.4 126.7,215.5 127.5,216.6 128.3,217.6 129.1,218.7 129.9,219.7 130.7,220.7 131.5,221.8 132.4,222.8 133.3,223.8 134.1,224.8 135.0,225.8 135.9,226.8 136.8,227.8 137.7,228.8 138.6,229.7 139.5,230.7 140.4,231.7 141.3,232.6 142.3,233.6 143.2,234.5 144.2,235.5 145.1,236.4 146.1,237.4 147.0,238.3 148.0,239.2 148.9,240.2 149.9,241.1 150.8,242.0 151.8,242.9 152.8,243.9 153.7,244.8 154.7,245.7 155.7,246.6 156.6,247.5 157.6,248.4 158.5,249.3 159.5,250.3 160.5,251.2 161.4,252.1 162.4,253.0 163.3,253.9 164.2,254.8 165.2,255.8 166.1,256.7 167.0,257.7 168.0,258.6 168.9,259.6 169.8,260.5 170.7,261.5 171.7,262.5 172.6,263.5 173.5,264.5 174.4,265.5 175.3,266.5 176.1,267.5 177.0,268.6 177.9,269.6 178.8,270.7 179.7,271.7 180.6,272.8 181.5,273.8 182.4,274.8 183.3,275.8 184.3,276.7 185.2,277.7 186.2,278.6 187.2,279.4 188.2,280.3 189.2,281.1 190.2,281.8 191.3,282.5 192.4,283.2 193.5,283.8 194.6,284.4 195.8,284.9 197.0,285.4 198.1,285.9 199.3,286.3 200.5,286.7 201.8,287.0 203.0,287.3 204.3,287.6 205.5,287.8 206.8,288.0 208.1,288.2 209.4,288.3 210.6,288.4 211.9,288.4 213.3,288.4 214.6,288.4 215.9,288.4 217.2,288.3 218.5,288.2 219.8,288.0 221.1,287.8 222.5,287.6 223.8,287.4 225.1,287.1 226.4,286.8 227.7,286.5 229.0,286.1 230.3,285.8 231.6,285.3 232.9,284.9 234.1,284.4 235.4,284.0 236.6,283.4 237.9,282.9 239.1,282.3 240.3,281.7 241.5,281.1 242.7,280.5 243.8,279.8 245.0,279.2 246.1,278.5 247.3,277.8 248.4,277.0 249.5,276.3 250.6,275.5 251.7,274.8 252.8,274.0 253.8,273.2 254.9,272.4 256.0,271.6 257.0,270.7 258.1,269.9 259.1,269.1 260.2,268.2 261.2,267.4 262.3,266.5 263.3,265.7 264.4,264.8 265.4,264.0 266.4,263.2 267.5,262.3 268.5,261.5 269.6,260.7 270.6,259.8 271.7,259.0 272.7,258.2 273.8,257.4 274.9,256.6 275.9,255.8 277.0,255.1 278.1,254.3 279.2,253.6 280.3,252.9 281.4,252.2 282.6,251.5 283.7,250.8 284.8,250.2 286.0,249.6 287.2,248.9 288.3,248.3 289.5,247.7 290.7,247.2 291.9,246.6 293.1,246.1 294.3,245.5 295.5,245.0 296.7,244.5 298.0,244.0 299.2,243.5 300.4,243.1 301.7,242.6 302.9,242.2 304.2,241.7 305.4,241.3 306.7,240.9 308.0,240.5 309.2,240.1 310.5,239.7 311.8,239.3 313.1,239.0 314.4,238.6 315.7,238.3 316.9,238.0 318.2,237.7 319.5,237.3 320.8,237.1 322.1,236.8 323.5,236.5 324.8,236.2 326.1,236.0 327.4,235.8 328.7,235.5 330.0,235.3 331.3,235.1 332.7,234.9 334.0,234.8 335.3,234.6 336.6,234.4 338.0,234.3 339.3,234.2 340.6,234.0 341.9,233.9 343.3,233.8 344.6,233.7 345.9,233.7 347.2,233.6 348.6,233.5 349.9,233.5 351.2,233.5 352.5,233.5 353.9,233.4 355.2,233.4 356.5,233.5 357.8,233.5 359.2,233.5 360.5,233.6" stroke="#ff9ccc" class="ca"/>
<path d="M70.9,77.8 71.9,78.8 72.7,79.7 73.6,80.7 74.4,81.8 75.1,82.8 75.8,83.9 76.4,85.1 77.0,86.3 77.6,87.5 78.1,88.7 78.7,89.9 79.2,91.2 79.6,92.4 80.1,93.7 80.5,95.0 81.0,96.3 81.4,97.6 81.8,98.9 82.2,100.2 82.6,101.6 82.9,102.9 83.3,104.2 83.7,105.5 84.1,106.8 84.5,108.1 84.8,109.5 85.2,110.8 85.6,112.1 86.0,113.4 86.4,114.7 86.7,116.0 87.1,117.3 87.5,118.6 87.9,119.9 88.3,121.2 88.6,122.4 89.0,123.7 89.4,125.0 89.8,126.3 90.2,127.6 90.6,128.9 90.9,130.2 91.3,131.4 91.7,132.7 92.1,134.0 92.5,135.3 92.9,136.6 93.3,137.9 93.7,139.1 94.0,140.4 94.4,141.7 94.8,143.0 95.2,144.3 95.6,145.5 96.0,146.8 96.4,148.1 96.8,149.4 97.2,150.7 97.6,152.0 98.0,153.3 98.4,154.6 98.8,155.8 99.2,157.1 99.6,158.4 100.0,159.7 100.4,161.0 100.8,162.3 101.2,163.6 101.6,164.9 102.1,166.2 102.5,167.5 102.9,168.8 103.3,170.1 103.7,171.4 104.2,172.7 104.6,174.0 105.1,175.3 105.5,176.6 105.9,177.9 106.4,179.1 106.9,180.4 107.3,181.7 107.8,183.0 108.3,184.3 108.7,185.6 109.2,186.8 109.7,188.1 110.2,189.4 110.7,190.6 111.3,191.9 111.8,193.1 112.3,194.4 112.8,195.6 113.4,196.9 113.9,198.1 114.5,199.3 115.1,200.6 115.6,201.8 116.2,203.0 116.8,204.2 117.4,205.4 118.0,206.6 118.7,207.8 119.3,209.0 120.0,210.2 120.6,211.3 121.3,212.5 122.0,213.7 122.6,214.8 123.3,215.9 124.1,217.1 124.8,218.2 125.5,219.3 126.3,220.4 127.0,221.5 127.8,222.6 128.6,223.7 129.4,224.8 130.2,225.9 131.0,226.9 131.9,228.0 132.7,229.0 133.6,230.0 134.4,231.1 135.3,232.1 136.2,233.1 137.0,234.1 137.9,235.2 138.8,236.2 139.7,237.2 140.6,238.2 141.5,239.2 142.4,240.2 143.3,241.2 144.2,242.2 145.1,243.3 146.0,244.3 146.9,245.3 147.8,246.3 148.7,247.4 149.6,248.4 150.4,249.4 151.3,250.5 152.2,251.5 153.0,252.6 153.9,253.7 154.7,254.7 155.5,255.8 156.4,256.9 157.2,258.0 157.9,259.2 158.7,260.3 159.5,261.4 160.2,262.6 160.9,263.8 161.7,265.0 162.4,266.2 163.0,267.4 163.7,268.6 164.4,269.8 165.1,271.0 165.8,272.2 166.4,273.4 167.1,274.6 167.9,275.7 168.6,276.9 169.3,278.0 170.1,279.1 170.9,280.1 171.7,281.2 172.5,282.1 173.4,283.1 174.3,284.0 175.3,284.9 176.3,285.7 177.3,286.4 178.4,287.1 179.6,287.8 180.7,288.4 181.9,288.9 183.1,289.4 184.4,289.9 185.6,290.2 186.9,290.6 188.2,290.8 189.5,291.1 190.9,291.2 192.2,291.3 193.6,291.4 195.0,291.5 196.3,291.5 197.7,291.5 199.1,291.5 200.5,291.4 201.9,291.3 203.3,291.3 204.7,291.2 206.0,291.1 207.4,291.0 208.8,290.9 210.2,290.8 211.6,290.7 213.0,290.6 214.3,290.5 215.7,290.4 217.1,290.3 218.5,290.2 219.8,290.1 221.2,290.0 222.5,289.9 223.9,289.8 225.3,289.6 226.6,289.5 227.9,289.3 229.3,289.1 230.6,288.9 231.9,288.7 233.2,288.4 234.5,288.1 235.7,287.8 237.0,287.4 238.3,287.1 239.5,286.7 240.7,286.2 241.9,285.8 243.2,285.3 244.3,284.7 245.5,284.2 246.7,283.6 247.9,283.0 249.0,282.4 250.2,281.8 251.4,281.2 252.5,280.5 253.6,279.8 254.8,279.1 255.9,278.4 257.0,277.7 258.1,276.9 259.2,276.2 260.3,275.4 261.5,274.7 262.6,273.9 263.7,273.2 264.8,272.4 265.9,271.7 267.1,271.0 268.2,270.3 269.4,269.6 270.5,268.9 271.7,268.3 272.9,267.7 274.1,267.1 275.3,266.5 276.6,265.9 277.8,265.4 279.0,264.9 280.3,264.4 281.5,263.9 282.8,263.4 284.1,263.0 285.3,262.5 286.6,262.1 287.9,261.7 289.2,261.2 290.5,260.8 291.8,260.4 293.1,260.0 294.4,259.6 295.7,259.2 297.0,258.8 298.3,258.4 299.6,258.0 300.9,257.7 302.2,257.3 303.5,256.9 304.8,256.5 306.1,256.1 307.4,255.7 308.7,255.3 310.0,254.9 311.3,254.5 312.6,254.1 313.9,253.7 315.2,253.3 316.5,252.9 317.8,252.5 319.1,252.2 320.4,251.8 321.7,251.5 323.0,251.1 324.4,250.8 325.7,250.4 327.0,250.1 328.3,249.8 329.6,249.5 330.9,249.2 332.2,248.9 333.5,248.6 334.9,248.4 336.2,248.1 337.5,247.9 338.8,247.7 340.2,247.5 341.5,247.3 342.8,247.1 344.2,247.0 345.5,246.8 346.9,246.7 348.2,246.6 349.6,246.5 350.9,246.5 352.3,246.4 353.6,246.4 355.0,246.4 356.4,246.4 357.8,246.5 359.1,246.5 360.5,246.6" stroke="#ff10ff" class="ca"/>
<path d="M70.8,72.4 71.8,73.4 72.7,74.5 73.5,75.6 74.3,76.7 75.0,77.9 75.7,79.1 76.3,80.3 76.9,81.5 77.4,82.8 77.9,84.0 78.4,85.3 78.8,86.6 79.2,88.0 79.6,89.3 80.0,90.6 80.3,92.0 80.6,93.3 80.9,94.7 81.2,96.1 81.5,97.4 81.8,98.8 82.1,100.2 82.4,101.6 82.7,103.0 83.0,104.3 83.4,105.7 83.7,107.0 84.1,108.4 84.4,109.8 84.8,111.1 85.2,112.4 85.6,113.8 86.0,115.1 86.4,116.5 86.8,117.8 87.2,119.1 87.6,120.5 88.0,121.8 88.4,123.1 88.8,124.5 89.2,125.8 89.6,127.1 90.0,128.4 90.4,129.8 90.8,131.1 91.1,132.4 91.5,133.8 91.9,135.1 92.2,136.5 92.6,137.8 92.9,139.2 93.2,140.5 93.5,141.9 93.8,143.2 94.1,144.6 94.4,145.9 94.7,147.3 95.0,148.6 95.3,150.0 95.6,151.4 95.9,152.7 96.2,154.1 96.5,155.4 96.8,156.8 97.0,158.1 97.3,159.5 97.7,160.9 98.0,162.2 98.3,163.6 98.6,164.9 98.9,166.3 99.3,167.6 99.6,169.0 100.0,170.3 100.4,171.6 100.8,173.0 101.2,174.3 101.6,175.6 102.0,177.0 102.4,178.3 102.9,179.6 103.3,180.9 103.8,182.2 104.3,183.5 104.8,184.9 105.3,186.2 105.8,187.5 106.3,188.8 106.8,190.1 107.3,191.3 107.9,192.6 108.4,193.9 109.0,195.2 109.6,196.5 110.2,197.7 110.8,199.0 111.4,200.3 112.0,201.5 112.6,202.8 113.2,204.0 113.9,205.3 114.5,206.5 115.2,207.7 115.8,209.0 116.5,210.2 117.2,211.4 117.9,212.6 118.6,213.8 119.3,215.0 120.0,216.2 120.7,217.4 121.4,218.6 122.1,219.8 122.9,221.0 123.6,222.1 124.4,223.3 125.1,224.5 125.9,225.6 126.7,226.8 127.4,227.9 128.2,229.1 129.0,230.2 129.8,231.3 130.6,232.4 131.4,233.6 132.2,234.7 133.0,235.8 133.8,236.9 134.6,238.0 135.4,239.1 136.2,240.2 137.0,241.4 137.7,242.5 138.5,243.7 139.2,244.8 139.9,246.0 140.6,247.2 141.3,248.4 141.9,249.7 142.5,251.0 143.1,252.2 143.6,253.6 144.1,254.9 144.6,256.3 145.0,257.7 145.4,259.1 145.8,260.5 146.2,261.9 146.6,263.3 147.0,264.7 147.4,266.1 147.8,267.5 148.2,268.9 148.6,270.3 149.0,271.6 149.5,273.0 150.0,274.3 150.5,275.6 151.0,276.8 151.6,278.0 152.2,279.2 152.9,280.3 153.6,281.3 154.3,282.4 155.2,283.3 156.0,284.2 156.9,285.1 157.9,285.8 158.9,286.6 159.9,287.2 161.1,287.8 162.2,288.3 163.4,288.8 164.7,289.2 165.9,289.5 167.3,289.9 168.6,290.2 170.0,290.4 171.3,290.7 172.7,290.9 174.1,291.1 175.5,291.4 177.0,291.6 178.4,291.8 179.8,292.1 181.2,292.3 182.6,292.6 184.0,292.8 185.4,293.1 186.8,293.3 188.2,293.6 189.6,293.8 191.0,294.1 192.5,294.3 193.9,294.6 195.3,294.8 196.7,295.1 198.1,295.3 199.4,295.5 200.8,295.8 202.2,296.0 203.6,296.2 205.0,296.4 206.4,296.6 207.8,296.7 209.2,296.9 210.6,297.0 212.0,297.2 213.3,297.3 214.7,297.4 216.1,297.5 217.5,297.5 218.8,297.6 220.2,297.6 221.6,297.6 222.9,297.6 224.3,297.6 225.7,297.5 227.0,297.4 228.4,297.3 229.7,297.2 231.1,297.0 232.5,296.9 233.8,296.7 235.2,296.5 236.5,296.2 237.8,296.0 239.2,295.7 240.5,295.5 241.9,295.2 243.2,294.9 244.5,294.5 245.9,294.2 247.2,293.8 248.5,293.5 249.9,293.1 251.2,292.7 252.5,292.3 253.8,291.8 255.2,291.4 256.5,291.0 257.8,290.5 259.1,290.1 260.4,289.6 261.8,289.1 263.1,288.6 264.4,288.1 265.7,287.6 267.0,287.1 268.3,286.6 269.6,286.1 270.9,285.6 272.2,285.1 273.5,284.5 274.8,284.0 276.2,283.5 277.5,282.9 278.8,282.4 280.1,281.9 281.4,281.3 282.7,280.8 284.0,280.3 285.3,279.8 286.6,279.2 287.8,278.7 289.1,278.2 290.4,277.7 291.7,277.1 293.0,276.6 294.3,276.1 295.6,275.6 296.9,275.1 298.2,274.6 299.5,274.1 300.8,273.6 302.1,273.2 303.4,272.7 304.7,272.2 306.0,271.8 307.3,271.3 308.6,270.9 309.9,270.5 311.3,270.0 312.6,269.6 313.9,269.2 315.2,268.8 316.5,268.4 317.8,268.0 319.2,267.7 320.5,267.3 321.8,267.0 323.1,266.6 324.5,266.3 325.8,266.0 327.2,265.7 328.5,265.4 329.8,265.1 331.2,264.9 332.6,264.6 333.9,264.4 335.3,264.1 336.6,263.9 338.0,263.7 339.4,263.6 340.8,263.4 342.2,263.2 343.5,263.1 344.9,263.0 346.3,262.9 347.7,262.8 349.2,262.7 350.6,262.7 352.0,262.7 353.4,262.7 354.9,262.7 356.3,262.7 357.7,262.7 359.2,262.8 360.7,262.9" stroke="#b400d8" class="ca"/>
<path d="M71.3,67.2 71.9,68.4 72.5,69.7 73.1,71.0 73.7,72.3 74.2,73.6 74.8,74.9 75.3,76.2 75.8,77.5 76.3,78.8 76.8,80.1 77.3,81.4 77.7,82.7 78.2,84.1 78.6,85.4 79.1,86.7 79.5,88.1 79.9,89.4 80.3,90.8 80.7,92.1 81.1,93.5 81.5,94.8 81.9,96.2 82.2,97.6 82.6,98.9 82.9,100.3 83.3,101.7 83.6,103.0 83.9,104.4 84.2,105.8 84.5,107.2 84.8,108.6 85.2,110.0 85.4,111.3 85.7,112.7 86.0,114.1 86.3,115.5 86.6,116.9 86.9,118.3 87.1,119.7 87.4,121.1 87.7,122.5 87.9,123.9 88.2,125.3 88.5,126.7 88.7,128.1 89.0,129.5 89.2,130.9 89.5,132.3 89.8,133.7 90.0,135.1 90.3,136.5 90.5,137.9 90.8,139.3 91.0,140.7 91.3,142.1 91.6,143.5 91.8,144.9 92.1,146.3 92.4,147.7 92.6,149.1 92.9,150.5 93.2,151.9 93.5,153.3 93.8,154.7 94.1,156.1 94.4,157.5 94.7,158.9 95.0,160.3 95.3,161.6 95.6,163.0 96.0,164.4 96.3,165.8 96.6,167.1 97.0,168.5 97.3,169.9 97.7,171.2 98.1,172.6 98.5,174.0 98.8,175.3 99.2,176.7 99.7,178.0 100.1,179.4 100.5,180.7 100.9,182.0 101.4,183.4 101.9,184.7 102.3,186.0 102.8,187.3 103.3,188.7 103.8,190.0 104.3,191.3 104.9,192.6 105.4,193.9 106.0,195.2 106.5,196.4 107.1,197.7 107.7,199.0 108.3,200.3 108.9,201.6 109.5,202.8 110.1,204.1 110.8,205.4 111.4,206.6 112.0,207.9 112.7,209.2 113.3,210.4 114.0,211.7 114.7,212.9 115.3,214.2 116.0,215.4 116.7,216.7 117.4,217.9 118.0,219.2 118.7,220.4 119.4,221.7 120.1,222.9 120.8,224.2 121.4,225.4 122.1,226.7 122.8,227.9 123.5,229.2 124.1,230.4 124.8,231.7 125.5,233.0 126.1,234.2 126.8,235.5 127.4,236.7 128.1,238.0 128.7,239.3 129.4,240.5 130.0,241.8 130.6,243.1 131.2,244.4 131.8,245.7 132.4,247.0 133.0,248.3 133.6,249.6 134.1,250.9 134.7,252.2 135.3,253.5 135.8,254.8 136.4,256.1 136.9,257.4 137.4,258.7 138.0,260.0 138.5,261.3 139.1,262.7 139.6,264.0 140.2,265.3 140.7,266.6 141.3,267.9 141.8,269.2 142.4,270.5 143.0,271.8 143.6,273.1 144.2,274.4 144.8,275.7 145.4,277.0 146.0,278.3 146.7,279.5 147.3,280.8 148.0,282.0 148.8,283.2 149.6,284.3 150.5,285.3 151.4,286.1 152.5,286.8 153.7,287.4 154.9,287.8 156.2,288.1 157.6,288.3 159.1,288.4 160.6,288.6 162.0,288.7 163.5,288.8 165.0,289.0 166.4,289.3 167.8,289.7 169.1,290.2 170.4,290.8 171.7,291.5 172.9,292.2 174.1,293.0 175.3,293.9 176.4,294.7 177.6,295.6 178.8,296.5 179.9,297.3 181.1,298.2 182.3,299.0 183.5,299.7 184.8,300.4 186.0,301.1 187.3,301.8 188.5,302.4 189.8,303.0 191.1,303.5 192.4,304.0 193.8,304.5 195.1,304.9 196.4,305.4 197.8,305.7 199.1,306.1 200.5,306.4 201.9,306.7 203.3,306.9 204.6,307.1 206.0,307.3 207.4,307.5 208.8,307.6 210.2,307.7 211.6,307.8 213.0,307.8 214.4,307.8 215.8,307.8 217.2,307.8 218.6,307.7 220.0,307.6 221.4,307.5 222.7,307.4 224.1,307.2 225.5,307.0 226.9,306.8 228.3,306.6 229.7,306.3 231.0,306.0 232.4,305.8 233.8,305.4 235.2,305.1 236.5,304.8 237.9,304.4 239.3,304.1 240.7,303.7 242.0,303.3 243.4,302.9 244.8,302.5 246.1,302.1 247.5,301.7 248.9,301.3 250.2,300.9 251.6,300.4 253.0,300.0 254.3,299.6 255.7,299.1 257.1,298.7 258.4,298.2 259.8,297.8 261.2,297.4 262.6,296.9 263.9,296.5 265.3,296.1 266.7,295.7 268.0,295.3 269.4,294.9 270.8,294.5 272.2,294.1 273.5,293.7 274.9,293.4 276.3,293.0 277.7,292.7 279.0,292.3 280.4,292.0 281.8,291.7 283.2,291.4 284.6,291.1 286.0,290.8 287.3,290.5 288.7,290.2 290.1,289.9 291.5,289.7 292.9,289.4 294.3,289.2 295.7,288.9 297.1,288.7 298.5,288.5 299.9,288.2 301.2,288.0 302.6,287.8 304.0,287.6 305.4,287.4 306.8,287.2 308.2,287.0 309.6,286.9 311.0,286.7 312.4,286.5 313.8,286.3 315.2,286.2 316.6,286.0 318.0,285.9 319.4,285.7 320.8,285.6 322.3,285.5 323.7,285.3 325.1,285.2 326.5,285.1 327.9,285.0 329.3,284.8 330.7,284.7 332.1,284.6 333.5,284.5 334.9,284.4 336.4,284.3 337.8,284.2 339.2,284.1 340.6,284.0 342.0,283.9 343.4,283.8 344.9,283.7 346.3,283.7 347.7,283.6 349.1,283.5 350.5,283.4 352.0,283.3 353.4,283.2 354.8,283.2 356.2,283.1 357.7,283.0 359.1,282.9 360.5,282.9" stroke="#720672" class="ca"/>
<path d="M452.00,69.04 L458.00,72.34 L464.00,75.64 L470.00,78.95 L476.00,82.25 L482.00,85.57 L488.00,88.88 L494.00,92.20 L500.00,95.52 L506.00,98.84 L512.00,102.17 L518.00,105.50 L524.00,108.83 L530.00,112.16 L536.00,115.50 L542.00,118.84 L548.00,122.18 L554.00,125.53 L560.00,128.88 L566.00,132.23 L572.00,135.58 L578.00,138.94 L584.00,142.30 L590.00,145.66 L596.00,149.03 L602.00,152.40 L608.00,155.77 L614.00,159.15 L620.00,162.52 L626.00,165.90 L632.00,169.29 L638.00,172.67 L644.00,176.06 L648.50,178.61 L652.50,182.34 L656.50,185.78 L660.50,189.01 L664.50,192.07 L668.50,195.02 L672.50,197.89 L676.50,200.71 L680.50,203.49 L684.50,206.24 L688.50,208.96 L692.50,211.62 L696.50,214.22 L700.50,216.71 L704.50,219.06 L708.50,221.21 L712.50,223.09 L716.50,224.62 L720.50,225.72 L724.50,226.29 L728.30,226.26" stroke="#0a0aee" class="cb"/>
<path d="M452.00,79.37 L458.00,82.67 L464.00,85.98 L470.00,89.28 L476.00,92.59 L482.00,95.90 L488.00,99.21 L494.00,102.53 L500.00,105.85 L506.00,109.18 L512.00,112.50 L518.00,115.83 L524.00,119.16 L530.00,122.50 L536.00,125.83 L542.00,129.17 L548.00,132.52 L554.00,135.86 L560.00,139.21 L566.00,142.56 L572.00,145.92 L578.00,149.28 L584.00,152.64 L590.00,156.00 L596.00,159.36 L602.00,162.73 L608.00,166.11 L614.00,169.48 L620.00,172.86 L626.00,176.24 L632.00,179.62 L638.00,183.01 L644.00,186.40 L648.50,188.94 L652.50,192.67 L656.50,196.12 L660.50,199.34 L664.50,202.41 L668.50,205.36 L672.50,208.23 L676.50,211.04 L680.50,213.82 L684.50,216.57 L688.50,219.29 L692.50,221.96 L696.50,224.55 L700.50,227.05 L704.50,229.40 L708.50,231.55 L712.50,233.42 L716.50,234.95 L720.50,236.05 L724.50,236.63 L728.30,236.59" stroke="#6e6ef2" class="cb"/>
<path d="M452.00,85.42 L458.00,88.72 L464.00,92.02 L470.00,95.33 L476.00,98.63 L482.00,101.95 L488.00,105.26 L494.00,108.58 L500.00,111.90 L506.00,115.22 L512.00,118.55 L518.00,121.87 L524.00,125.21 L530.00,128.54 L536.00,131.88 L542.00,135.22 L548.00,138.56 L554.00,141.91 L560.00,145.26 L566.00,148.61 L572.00,151.96 L578.00,155.32 L584.00,158.68 L590.00,162.04 L596.00,165.41 L602.00,168.78 L608.00,172.15 L614.00,175.53 L620.00,178.90 L626.00,182.28 L632.00,185.67 L638.00,189.05 L644.00,192.44 L648.50,194.99 L652.50,198.72 L656.50,202.16 L660.50,205.39 L664.50,208.45 L668.50,211.40 L672.50,214.27 L676.50,217.09 L680.50,219.87 L684.50,222.62 L688.50,225.34 L692.50,228.00 L696.50,230.60 L700.50,233.09 L704.50,235.44 L708.50,237.59 L712.50,239.47 L716.50,241.00 L720.50,242.10 L724.50,242.67 L728.30,242.64" stroke="#10e6ee" class="cb"/>
<path d="M452.00,89.71 L458.00,93.01 L464.00,96.31 L470.00,99.62 L476.00,102.92 L482.00,106.24 L488.00,109.55 L494.00,112.87 L500.00,116.19 L506.00,119.51 L512.00,122.84 L518.00,126.16 L524.00,129.50 L530.00,132.83 L536.00,136.17 L542.00,139.51 L548.00,142.85 L554.00,146.20 L560.00,149.55 L566.00,152.90 L572.00,156.25 L578.00,159.61 L584.00,162.97 L590.00,166.33 L596.00,169.70 L602.00,173.07 L608.00,176.44 L614.00,179.82 L620.00,183.19 L626.00,186.57 L632.00,189.96 L638.00,193.34 L644.00,196.73 L648.50,199.28 L652.50,203.01 L656.50,206.45 L660.50,209.68 L664.50,212.74 L668.50,215.69 L672.50,218.56 L676.50,221.38 L680.50,224.16 L684.50,226.91 L688.50,229.63 L692.50,232.29 L696.50,234.89 L700.50,237.38 L704.50,239.73 L708.50,241.88 L712.50,243.76 L716.50,245.29 L720.50,246.39 L724.50,246.96 L728.30,246.92" stroke="#18ee18" class="cb"/>
<path d="M452.00,93.03 L458.00,96.33 L464.00,99.64 L470.00,102.94 L476.00,106.25 L482.00,109.56 L488.00,112.88 L494.00,116.19 L500.00,119.51 L506.00,122.84 L512.00,126.16 L518.00,129.49 L524.00,132.82 L530.00,136.16 L536.00,139.49 L542.00,142.83 L548.00,146.18 L554.00,149.52 L560.00,152.87 L566.00,156.22 L572.00,159.58 L578.00,162.94 L584.00,166.30 L590.00,169.66 L596.00,173.03 L602.00,176.40 L608.00,179.77 L614.00,183.14 L620.00,186.52 L626.00,189.90 L632.00,193.28 L638.00,196.67 L644.00,200.06 L648.50,202.60 L652.50,206.33 L656.50,209.78 L660.50,213.01 L664.50,216.07 L668.50,219.02 L672.50,221.89 L676.50,224.70 L680.50,227.49 L684.50,230.24 L688.50,232.95 L692.50,235.62 L696.50,238.22 L700.50,240.71 L704.50,243.06 L708.50,245.21 L712.50,247.08 L716.50,248.61 L720.50,249.71 L724.50,250.29 L728.30,250.25" stroke="#22a044" class="cb"/>
<path d="M452.00,98.05 L458.00,101.35 L464.00,104.65 L470.00,107.96 L476.00,111.27 L482.00,114.58 L488.00,117.89 L494.00,121.21 L500.00,124.53 L506.00,127.85 L512.00,131.18 L518.00,134.51 L524.00,137.84 L530.00,141.17 L536.00,144.51 L542.00,147.85 L548.00,151.19 L554.00,154.54 L560.00,157.89 L566.00,161.24 L572.00,164.60 L578.00,167.95 L584.00,171.31 L590.00,174.68 L596.00,178.04 L602.00,181.41 L608.00,184.78 L614.00,188.16 L620.00,191.54 L626.00,194.92 L632.00,198.30 L638.00,201.69 L644.00,205.08 L648.50,207.62 L652.50,211.35 L656.50,214.80 L660.50,218.02 L664.50,221.09 L668.50,224.03 L672.50,226.90 L676.50,229.72 L680.50,232.50 L684.50,235.25 L688.50,237.97 L692.50,240.64 L696.50,243.23 L700.50,245.72 L704.50,248.08 L708.50,250.22 L712.50,252.10 L716.50,253.63 L720.50,254.73 L724.50,255.31 L728.30,255.27" stroke="#0c3a30" class="cb"/>
<path d="M452.00,103.37 L458.00,106.67 L464.00,109.97 L470.00,113.28 L476.00,116.58 L482.00,119.90 L488.00,123.21 L494.00,126.53 L500.00,129.85 L506.00,133.17 L512.00,136.50 L518.00,139.83 L524.00,143.16 L530.00,146.49 L536.00,149.83 L542.00,153.17 L548.00,156.51 L554.00,159.86 L560.00,163.21 L566.00,166.56 L572.00,169.91 L578.00,173.27 L584.00,176.63 L590.00,179.99 L596.00,183.36 L602.00,186.73 L608.00,190.10 L614.00,193.48 L620.00,196.85 L626.00,200.23 L632.00,203.62 L638.00,207.00 L644.00,210.39 L648.50,212.94 L652.50,216.67 L656.50,220.11 L660.50,223.34 L664.50,226.40 L668.50,229.35 L672.50,232.22 L676.50,235.04 L680.50,237.82 L684.50,240.57 L688.50,243.29 L692.50,245.95 L696.50,248.55 L700.50,251.04 L704.50,253.39 L708.50,255.54 L712.50,257.42 L716.50,258.95 L720.50,260.05 L724.50,260.62 L728.30,260.59" stroke="#ffc800" class="cb"/>
<path d="M452.00,109.41 L458.00,112.71 L464.00,116.02 L470.00,119.32 L476.00,122.63 L482.00,125.94 L488.00,129.26 L494.00,132.57 L500.00,135.89 L506.00,139.22 L512.00,142.54 L518.00,145.87 L524.00,149.20 L530.00,152.54 L536.00,155.87 L542.00,159.21 L548.00,162.56 L554.00,165.90 L560.00,169.25 L566.00,172.60 L572.00,175.96 L578.00,179.32 L584.00,182.68 L590.00,186.04 L596.00,189.41 L602.00,192.77 L608.00,196.15 L614.00,199.52 L620.00,202.90 L626.00,206.28 L632.00,209.66 L638.00,213.05 L644.00,216.44 L648.50,218.98 L652.50,222.71 L656.50,226.16 L660.50,229.39 L664.50,232.45 L668.50,235.40 L672.50,238.27 L676.50,241.08 L680.50,243.86 L684.50,246.62 L688.50,249.33 L692.50,252.00 L696.50,254.60 L700.50,257.09 L704.50,259.44 L708.50,261.59 L712.50,263.46 L716.50,264.99 L720.50,266.09 L724.50,266.67 L728.30,266.63" stroke="#ff7a26" class="cb"/>
<path d="M452.00,113.70 L458.00,117.00 L464.00,120.31 L470.00,123.61 L476.00,126.92 L482.00,130.23 L488.00,133.54 L494.00,136.86 L500.00,140.18 L506.00,143.51 L512.00,146.83 L518.00,150.16 L524.00,153.49 L530.00,156.83 L536.00,160.16 L542.00,163.50 L548.00,166.85 L554.00,170.19 L560.00,173.54 L566.00,176.89 L572.00,180.25 L578.00,183.61 L584.00,186.97 L590.00,190.33 L596.00,193.69 L602.00,197.06 L608.00,200.44 L614.00,203.81 L620.00,207.19 L626.00,210.57 L632.00,213.95 L638.00,217.34 L644.00,220.73 L648.50,223.27 L652.50,227.00 L656.50,230.45 L660.50,233.67 L664.50,236.74 L668.50,239.69 L672.50,242.56 L676.50,245.37 L680.50,248.15 L684.50,250.90 L688.50,253.62 L692.50,256.29 L696.50,258.88 L700.50,261.38 L704.50,263.73 L708.50,265.88 L712.50,267.75 L716.50,269.28 L720.50,270.38 L724.50,270.96 L728.30,270.92" stroke="#f01818" class="cb"/>
<path d="M452.00,119.75 L458.00,123.05 L464.00,126.35 L470.00,129.66 L476.00,132.96 L482.00,136.28 L488.00,139.59 L494.00,142.91 L500.00,146.23 L506.00,149.55 L512.00,152.88 L518.00,156.20 L524.00,159.54 L530.00,162.87 L536.00,166.21 L542.00,169.55 L548.00,172.89 L554.00,176.24 L560.00,179.59 L566.00,182.94 L572.00,186.29 L578.00,189.65 L584.00,193.01 L590.00,196.37 L596.00,199.74 L602.00,203.11 L608.00,206.48 L614.00,209.86 L620.00,213.23 L626.00,216.61 L632.00,220.00 L638.00,223.38 L644.00,226.77 L648.50,229.32 L652.50,233.05 L656.50,236.49 L660.50,239.72 L664.50,242.78 L668.50,245.73 L672.50,248.60 L676.50,251.42 L680.50,254.20 L684.50,256.95 L688.50,259.67 L692.50,262.33 L696.50,264.93 L700.50,267.42 L704.50,269.77 L708.50,271.92 L712.50,273.80 L716.50,275.33 L720.50,276.43 L724.50,277.00 L728.30,276.97" stroke="#a01414" class="cb"/>
<path d="M452.00,124.04 L458.00,127.34 L464.00,130.64 L470.00,133.95 L476.00,137.25 L482.00,140.57 L488.00,143.88 L494.00,147.20 L500.00,150.52 L506.00,153.84 L512.00,157.17 L518.00,160.49 L524.00,163.83 L530.00,167.16 L536.00,170.50 L542.00,173.84 L548.00,177.18 L554.00,180.53 L560.00,183.88 L566.00,187.23 L572.00,190.58 L578.00,193.94 L584.00,197.30 L590.00,200.66 L596.00,204.03 L602.00,207.40 L608.00,210.77 L614.00,214.15 L620.00,217.52 L626.00,220.90 L632.00,224.29 L638.00,227.67 L644.00,231.06 L648.50,233.61 L652.50,237.34 L656.50,240.78 L660.50,244.01 L664.50,247.07 L668.50,250.02 L672.50,252.89 L676.50,255.71 L680.50,258.49 L684.50,261.24 L688.50,263.96 L692.50,266.62 L696.50,269.22 L700.50,271.71 L704.50,274.06 L708.50,276.21 L712.50,278.09 L716.50,279.62 L720.50,280.72 L724.50,281.29 L728.30,281.25" stroke="#ff9ccc" class="cb"/>
<path d="M452.00,127.36 L458.00,130.66 L464.00,133.97 L470.00,137.27 L476.00,140.58 L482.00,143.89 L488.00,147.21 L494.00,150.52 L500.00,153.84 L506.00,157.17 L512.00,160.49 L518.00,163.82 L524.00,167.15 L530.00,170.49 L536.00,173.82 L542.00,177.16 L548.00,180.51 L554.00,183.85 L560.00,187.20 L566.00,190.55 L572.00,193.91 L578.00,197.27 L584.00,200.63 L590.00,203.99 L596.00,207.36 L602.00,210.73 L608.00,214.10 L614.00,217.47 L620.00,220.85 L626.00,224.23 L632.00,227.61 L638.00,231.00 L644.00,234.39 L648.50,236.93 L652.50,240.66 L656.50,244.11 L660.50,247.34 L664.50,250.40 L668.50,253.35 L672.50,256.22 L676.50,259.03 L680.50,261.82 L684.50,264.57 L688.50,267.28 L692.50,269.95 L696.50,272.55 L700.50,275.04 L704.50,277.39 L708.50,279.54 L712.50,281.41 L716.50,282.94 L720.50,284.04 L724.50,284.62 L728.30,284.58" stroke="#ff10ff" class="cb"/>
<path d="M452.00,132.38 L458.00,135.68 L464.00,138.98 L470.00,142.29 L476.00,145.60 L482.00,148.91 L488.00,152.22 L494.00,155.54 L500.00,158.86 L506.00,162.18 L512.00,165.51 L518.00,168.84 L524.00,172.17 L530.00,175.50 L536.00,178.84 L542.00,182.18 L548.00,185.52 L554.00,188.87 L560.00,192.22 L566.00,195.57 L572.00,198.93 L578.00,202.28 L584.00,205.64 L590.00,209.01 L596.00,212.37 L602.00,215.74 L608.00,219.11 L614.00,222.49 L620.00,225.87 L626.00,229.25 L632.00,232.63 L638.00,236.02 L644.00,239.41 L648.50,241.95 L652.50,245.68 L656.50,249.13 L660.50,252.35 L664.50,255.42 L668.50,258.36 L672.50,261.23 L676.50,264.05 L680.50,266.83 L684.50,269.58 L688.50,272.30 L692.50,274.97 L696.50,277.56 L700.50,280.05 L704.50,282.41 L708.50,284.55 L712.50,286.43 L716.50,287.96 L720.50,289.06 L724.50,289.64 L728.30,289.60" stroke="#b400d8" class="cb"/>
<path d="M452.00,137.70 L458.00,141.00 L464.00,144.30 L470.00,147.61 L476.00,150.91 L482.00,154.23 L488.00,157.54 L494.00,160.86 L500.00,164.18 L506.00,167.50 L512.00,170.83 L518.00,174.16 L524.00,177.49 L530.00,180.82 L536.00,184.16 L542.00,187.50 L548.00,190.84 L554.00,194.19 L560.00,197.54 L566.00,200.89 L572.00,204.24 L578.00,207.60 L584.00,210.96 L590.00,214.32 L596.00,217.69 L602.00,221.06 L608.00,224.43 L614.00,227.81 L620.00,231.18 L626.00,234.56 L632.00,237.95 L638.00,241.33 L644.00,244.72 L648.50,247.27 L652.50,251.00 L656.50,254.44 L660.50,257.67 L664.50,260.73 L668.50,263.68 L672.50,266.55 L676.50,269.37 L680.50,272.15 L684.50,274.90 L688.50,277.62 L692.50,280.28 L696.50,282.88 L700.50,285.37 L704.50,287.72 L708.50,289.87 L712.50,291.75 L716.50,293.28 L720.50,294.38 L724.50,294.95 L728.30,294.92" stroke="#3c0a6a" class="cb"/>
<line x1="70.20" y1="28.38" x2="70.20" y2="326.60" class="ax"/>
<line x1="60.20" y1="316.10" x2="360.60" y2="316.10" class="ax"/>
<line x1="65.20" y1="294.45" x2="70.20" y2="294.45" class="tk"/>
<line x1="65.20" y1="281.78" x2="70.20" y2="281.78" class="tk"/>
<line x1="65.20" y1="272.79" x2="70.20" y2="272.79" class="tk"/>
<line x1="65.20" y1="265.82" x2="70.20" y2="265.82" class="tk"/>
<line x1="65.20" y1="260.13" x2="70.20" y2="260.13" class="tk"/>
<line x1="65.20" y1="255.31" x2="70.20" y2="255.31" class="tk"/>
<line x1="65.20" y1="251.14" x2="70.20" y2="251.14" class="tk"/>
<line x1="65.20" y1="247.46" x2="70.20" y2="247.46" class="tk"/>
<line x1="60.20" y1="244.17" x2="70.20" y2="244.17" class="tk"/>
<line x1="65.20" y1="222.52" x2="70.20" y2="222.52" class="tk"/>
<line x1="65.20" y1="209.85" x2="70.20" y2="209.85" class="tk"/>
<line x1="65.20" y1="200.86" x2="70.20" y2="200.86" class="tk"/>
<line x1="65.20" y1="193.89" x2="70.20" y2="193.89" class="tk"/>
<line x1="65.20" y1="188.20" x2="70.20" y2="188.20" class="tk"/>
<line x1="65.20" y1="183.38" x2="70.20" y2="183.38" class="tk"/>
<line x1="65.20" y1="179.21" x2="70.20" y2="179.21" class="tk"/>
<line x1="65.20" y1="175.53" x2="70.20" y2="175.53" class="tk"/>
<line x1="60.20" y1="172.24" x2="70.20" y2="172.24" class="tk"/>
<line x1="65.20" y1="150.59" x2="70.20" y2="150.59" class="tk"/>
<line x1="65.20" y1="137.92" x2="70.20" y2="137.92" class="tk"/>
<line x1="65.20" y1="128.93" x2="70.20" y2="128.93" class="tk"/>
<line x1="65.20" y1="121.96" x2="70.20" y2="121.96" class="tk"/>
<line x1="65.20" y1="116.27" x2="70.20" y2="116.27" class="tk"/>
<line x1="65.20" y1="111.45" x2="70.20" y2="111.45" class="tk"/>
<line x1="65.20" y1="107.28" x2="70.20" y2="107.28" class="tk"/>
<line x1="65.20" y1="103.60" x2="70.20" y2="103.60" class="tk"/>
<line x1="60.20" y1="100.31" x2="70.20" y2="100.31" class="tk"/>
<line x1="65.20" y1="78.66" x2="70.20" y2="78.66" class="tk"/>
<line x1="65.20" y1="65.99" x2="70.20" y2="65.99" class="tk"/>
<line x1="65.20" y1="57.00" x2="70.20" y2="57.00" class="tk"/>
<line x1="65.20" y1="50.03" x2="70.20" y2="50.03" class="tk"/>
<line x1="65.20" y1="44.34" x2="70.20" y2="44.34" class="tk"/>
<line x1="65.20" y1="39.52" x2="70.20" y2="39.52" class="tk"/>
<line x1="65.20" y1="35.35" x2="70.20" y2="35.35" class="tk"/>
<line x1="65.20" y1="31.67" x2="70.20" y2="31.67" class="tk"/>
<line x1="60.20" y1="28.38" x2="70.20" y2="28.38" class="tk"/>
<text x="55.5" y="320.40" class="ta" text-anchor="end">0.1</text>
<text x="55.5" y="248.47" class="ta" text-anchor="end">1</text>
<text x="55.5" y="176.54" class="ta" text-anchor="end">10</text>
<text x="55.5" y="104.61" class="ta" text-anchor="end">100</text>
<text x="55.5" y="32.68" class="ta" text-anchor="end">1000</text>
<text x="70.20" y="341.5" class="ta" text-anchor="middle">0</text>
<line x1="102.45" y1="316.10" x2="102.45" y2="321.10" class="tk"/>
<line x1="134.70" y1="316.10" x2="134.70" y2="326.60" class="tk"/>
<text x="134.70" y="341.5" class="ta" text-anchor="middle">40</text>
<line x1="166.95" y1="316.10" x2="166.95" y2="321.10" class="tk"/>
<line x1="199.20" y1="316.10" x2="199.20" y2="326.60" class="tk"/>
<text x="199.20" y="341.5" class="ta" text-anchor="middle">80</text>
<line x1="231.45" y1="316.10" x2="231.45" y2="321.10" class="tk"/>
<line x1="263.70" y1="316.10" x2="263.70" y2="326.60" class="tk"/>
<text x="263.70" y="341.5" class="ta" text-anchor="middle">120</text>
<line x1="295.95" y1="316.10" x2="295.95" y2="321.10" class="tk"/>
<line x1="328.20" y1="316.10" x2="328.20" y2="326.60" class="tk"/>
<text x="328.20" y="341.5" class="ta" text-anchor="middle">160</text>
<line x1="360.45" y1="316.10" x2="360.45" y2="321.10" class="tk"/>
<line x1="452.00" y1="38.11" x2="452.00" y2="322.25" class="axb"/>
<line x1="442.50" y1="312.75" x2="728.27" y2="312.75" class="axb"/>
<line x1="447.00" y1="302.42" x2="452.00" y2="302.42" class="tkb"/>
<line x1="447.00" y1="296.37" x2="452.00" y2="296.37" class="tkb"/>
<line x1="447.00" y1="292.08" x2="452.00" y2="292.08" class="tkb"/>
<line x1="447.00" y1="288.75" x2="452.00" y2="288.75" class="tkb"/>
<line x1="447.00" y1="286.04" x2="452.00" y2="286.04" class="tkb"/>
<line x1="447.00" y1="283.74" x2="452.00" y2="283.74" class="tkb"/>
<line x1="447.00" y1="281.75" x2="452.00" y2="281.75" class="tkb"/>
<line x1="447.00" y1="279.99" x2="452.00" y2="279.99" class="tkb"/>
<line x1="442.50" y1="278.42" x2="452.00" y2="278.42" class="tkb"/>
<line x1="447.00" y1="268.09" x2="452.00" y2="268.09" class="tkb"/>
<line x1="447.00" y1="262.04" x2="452.00" y2="262.04" class="tkb"/>
<line x1="447.00" y1="257.75" x2="452.00" y2="257.75" class="tkb"/>
<line x1="447.00" y1="254.42" x2="452.00" y2="254.42" class="tkb"/>
<line x1="447.00" y1="251.71" x2="452.00" y2="251.71" class="tkb"/>
<line x1="447.00" y1="249.41" x2="452.00" y2="249.41" class="tkb"/>
<line x1="447.00" y1="247.42" x2="452.00" y2="247.42" class="tkb"/>
<line x1="447.00" y1="245.66" x2="452.00" y2="245.66" class="tkb"/>
<line x1="442.50" y1="244.09" x2="452.00" y2="244.09" class="tkb"/>
<line x1="447.00" y1="233.76" x2="452.00" y2="233.76" class="tkb"/>
<line x1="447.00" y1="227.71" x2="452.00" y2="227.71" class="tkb"/>
<line x1="447.00" y1="223.42" x2="452.00" y2="223.42" class="tkb"/>
<line x1="447.00" y1="220.09" x2="452.00" y2="220.09" class="tkb"/>
<line x1="447.00" y1="217.38" x2="452.00" y2="217.38" class="tkb"/>
<line x1="447.00" y1="215.08" x2="452.00" y2="215.08" class="tkb"/>
<line x1="447.00" y1="213.09" x2="452.00" y2="213.09" class="tkb"/>
<line x1="447.00" y1="211.33" x2="452.00" y2="211.33" class="tkb"/>
<line x1="442.50" y1="209.76" x2="452.00" y2="209.76" class="tkb"/>
<line x1="447.00" y1="199.43" x2="452.00" y2="199.43" class="tkb"/>
<line x1="447.00" y1="193.38" x2="452.00" y2="193.38" class="tkb"/>
<line x1="447.00" y1="189.09" x2="452.00" y2="189.09" class="tkb"/>
<line x1="447.00" y1="185.76" x2="452.00" y2="185.76" class="tkb"/>
<line x1="447.00" y1="183.05" x2="452.00" y2="183.05" class="tkb"/>
<line x1="447.00" y1="180.75" x2="452.00" y2="180.75" class="tkb"/>
<line x1="447.00" y1="178.76" x2="452.00" y2="178.76" class="tkb"/>
<line x1="447.00" y1="177.00" x2="452.00" y2="177.00" class="tkb"/>
<line x1="442.50" y1="175.43" x2="452.00" y2="175.43" class="tkb"/>
<line x1="447.00" y1="165.10" x2="452.00" y2="165.10" class="tkb"/>
<line x1="447.00" y1="159.05" x2="452.00" y2="159.05" class="tkb"/>
<line x1="447.00" y1="154.76" x2="452.00" y2="154.76" class="tkb"/>
<line x1="447.00" y1="151.43" x2="452.00" y2="151.43" class="tkb"/>
<line x1="447.00" y1="148.72" x2="452.00" y2="148.72" class="tkb"/>
<line x1="447.00" y1="146.42" x2="452.00" y2="146.42" class="tkb"/>
<line x1="447.00" y1="144.43" x2="452.00" y2="144.43" class="tkb"/>
<line x1="447.00" y1="142.67" x2="452.00" y2="142.67" class="tkb"/>
<line x1="442.50" y1="141.10" x2="452.00" y2="141.10" class="tkb"/>
<line x1="447.00" y1="130.77" x2="452.00" y2="130.77" class="tkb"/>
<line x1="447.00" y1="124.72" x2="452.00" y2="124.72" class="tkb"/>
<line x1="447.00" y1="120.43" x2="452.00" y2="120.43" class="tkb"/>
<line x1="447.00" y1="117.10" x2="452.00" y2="117.10" class="tkb"/>
<line x1="447.00" y1="114.39" x2="452.00" y2="114.39" class="tkb"/>
<line x1="447.00" y1="112.09" x2="452.00" y2="112.09" class="tkb"/>
<line x1="447.00" y1="110.10" x2="452.00" y2="110.10" class="tkb"/>
<line x1="447.00" y1="108.34" x2="452.00" y2="108.34" class="tkb"/>
<line x1="442.50" y1="106.77" x2="452.00" y2="106.77" class="tkb"/>
<line x1="447.00" y1="96.44" x2="452.00" y2="96.44" class="tkb"/>
<line x1="447.00" y1="90.39" x2="452.00" y2="90.39" class="tkb"/>
<line x1="447.00" y1="86.10" x2="452.00" y2="86.10" class="tkb"/>
<line x1="447.00" y1="82.77" x2="452.00" y2="82.77" class="tkb"/>
<line x1="447.00" y1="80.06" x2="452.00" y2="80.06" class="tkb"/>
<line x1="447.00" y1="77.76" x2="452.00" y2="77.76" class="tkb"/>
<line x1="447.00" y1="75.77" x2="452.00" y2="75.77" class="tkb"/>
<line x1="447.00" y1="74.01" x2="452.00" y2="74.01" class="tkb"/>
<line x1="442.50" y1="72.44" x2="452.00" y2="72.44" class="tkb"/>
<line x1="447.00" y1="62.11" x2="452.00" y2="62.11" class="tkb"/>
<line x1="447.00" y1="56.06" x2="452.00" y2="56.06" class="tkb"/>
<line x1="447.00" y1="51.77" x2="452.00" y2="51.77" class="tkb"/>
<line x1="447.00" y1="48.44" x2="452.00" y2="48.44" class="tkb"/>
<line x1="447.00" y1="45.73" x2="452.00" y2="45.73" class="tkb"/>
<line x1="447.00" y1="43.43" x2="452.00" y2="43.43" class="tkb"/>
<line x1="447.00" y1="41.44" x2="452.00" y2="41.44" class="tkb"/>
<line x1="447.00" y1="39.68" x2="452.00" y2="39.68" class="tkb"/>
<line x1="442.50" y1="38.11" x2="452.00" y2="38.11" class="tkb"/>
<text x="436.8" y="316.70" class="tb" text-anchor="end">0.001</text>
<text x="436.8" y="282.37" class="tb" text-anchor="end">0.01</text>
<text x="436.8" y="248.04" class="tb" text-anchor="end">0.1</text>
<text x="436.8" y="213.71" class="tb" text-anchor="end">1</text>
<text x="436.8" y="179.38" class="tb" text-anchor="end">10</text>
<text x="436.8" y="145.05" class="tb" text-anchor="end">100</text>
<text x="436.8" y="110.72" class="tb" text-anchor="end">1000</text>
<text x="436.8" y="76.39" class="tb" text-anchor="end">10000</text>
<text x="436.8" y="42.06" class="tb" text-anchor="end">100000</text>
<text x="452.00" y="336.8" class="tb" text-anchor="middle">1</text>
<line x1="488.88" y1="312.75" x2="488.88" y2="317.75" class="tkb"/>
<line x1="510.45" y1="312.75" x2="510.45" y2="317.75" class="tkb"/>
<line x1="525.75" y1="312.75" x2="525.75" y2="317.75" class="tkb"/>
<line x1="537.62" y1="312.75" x2="537.62" y2="317.75" class="tkb"/>
<line x1="547.32" y1="312.75" x2="547.32" y2="317.75" class="tkb"/>
<line x1="555.52" y1="312.75" x2="555.52" y2="317.75" class="tkb"/>
<line x1="562.63" y1="312.75" x2="562.63" y2="317.75" class="tkb"/>
<line x1="568.89" y1="312.75" x2="568.89" y2="317.75" class="tkb"/>
<line x1="574.50" y1="312.75" x2="574.50" y2="322.25" class="tkb"/>
<text x="574.50" y="336.8" class="tb" text-anchor="middle">10</text>
<line x1="611.38" y1="312.75" x2="611.38" y2="317.75" class="tkb"/>
<line x1="632.95" y1="312.75" x2="632.95" y2="317.75" class="tkb"/>
<line x1="648.25" y1="312.75" x2="648.25" y2="317.75" class="tkb"/>
<line x1="660.12" y1="312.75" x2="660.12" y2="317.75" class="tkb"/>
<line x1="669.82" y1="312.75" x2="669.82" y2="317.75" class="tkb"/>
<line x1="678.02" y1="312.75" x2="678.02" y2="317.75" class="tkb"/>
<line x1="685.13" y1="312.75" x2="685.13" y2="317.75" class="tkb"/>
<line x1="691.39" y1="312.75" x2="691.39" y2="317.75" class="tkb"/>
<line x1="697.00" y1="312.75" x2="697.00" y2="322.25" class="tkb"/>
<text x="697.00" y="336.8" class="tb" text-anchor="middle">100</text>
<line x1="270.0" y1="22.60" x2="290.6" y2="22.60" stroke="#0a0aee" stroke-width="1.7"/>
<text x="295.5" y="25.90" class="lg">1 eV</text>
<line x1="270.0" y1="35.38" x2="290.6" y2="35.38" stroke="#6e6ef2" stroke-width="1.7"/>
<text x="295.5" y="38.68" class="lg">2 eV</text>
<line x1="270.0" y1="48.16" x2="290.6" y2="48.16" stroke="#10e6ee" stroke-width="1.7"/>
<text x="295.5" y="51.46" class="lg">3 eV</text>
<line x1="270.0" y1="60.94" x2="290.6" y2="60.94" stroke="#18ee18" stroke-width="1.7"/>
<text x="295.5" y="64.24" class="lg">4 eV</text>
<line x1="270.0" y1="73.72" x2="290.6" y2="73.72" stroke="#22a044" stroke-width="1.7"/>
<text x="295.5" y="77.02" class="lg">5 eV</text>
<line x1="270.0" y1="86.50" x2="290.6" y2="86.50" stroke="#0a6a34" stroke-width="1.7"/>
<text x="295.5" y="89.80" class="lg">7 eV</text>
<line x1="270.0" y1="99.28" x2="290.6" y2="99.28" stroke="#ffc800" stroke-width="1.7"/>
<text x="295.5" y="102.58" class="lg">10 eV</text>
<line x1="270.0" y1="112.06" x2="290.6" y2="112.06" stroke="#ff7a26" stroke-width="1.7"/>
<text x="295.5" y="115.36" class="lg">15 eV</text>
<line x1="270.0" y1="124.84" x2="290.6" y2="124.84" stroke="#f01818" stroke-width="1.7"/>
<text x="295.5" y="128.14" class="lg">20 eV</text>
<line x1="270.0" y1="137.62" x2="290.6" y2="137.62" stroke="#a01414" stroke-width="1.7"/>
<text x="295.5" y="140.92" class="lg">30 eV</text>
<line x1="270.0" y1="150.40" x2="290.6" y2="150.40" stroke="#ff9ccc" stroke-width="1.7"/>
<text x="295.5" y="153.70" class="lg">40 eV</text>
<line x1="270.0" y1="163.18" x2="290.6" y2="163.18" stroke="#ff10ff" stroke-width="1.7"/>
<text x="295.5" y="166.48" class="lg">50 eV</text>
<line x1="270.0" y1="175.96" x2="290.6" y2="175.96" stroke="#b400d8" stroke-width="1.7"/>
<text x="295.5" y="179.26" class="lg">70 eV</text>
<line x1="270.0" y1="188.74" x2="290.6" y2="188.74" stroke="#720672" stroke-width="1.7"/>
<text x="295.5" y="192.04" class="lg">100 eV</text>
<line x1="680.0" y1="27.40" x2="699.5" y2="27.40" stroke="#0a0aee" stroke-width="2"/>
<text x="704.0" y="30.70" class="lg">1 eV</text>
<line x1="680.0" y1="39.63" x2="699.5" y2="39.63" stroke="#6e6ef2" stroke-width="2"/>
<text x="704.0" y="42.93" class="lg">2 eV</text>
<line x1="680.0" y1="51.86" x2="699.5" y2="51.86" stroke="#10e6ee" stroke-width="2"/>
<text x="704.0" y="55.16" class="lg">3 eV</text>
<line x1="680.0" y1="64.09" x2="699.5" y2="64.09" stroke="#18ee18" stroke-width="2"/>
<text x="704.0" y="67.39" class="lg">4 eV</text>
<line x1="680.0" y1="76.32" x2="699.5" y2="76.32" stroke="#22a044" stroke-width="2"/>
<text x="704.0" y="79.62" class="lg">5 eV</text>
<line x1="680.0" y1="88.55" x2="699.5" y2="88.55" stroke="#0c3a30" stroke-width="2"/>
<text x="704.0" y="91.85" class="lg">7 eV</text>
<line x1="680.0" y1="100.78" x2="699.5" y2="100.78" stroke="#ffc800" stroke-width="2"/>
<text x="704.0" y="104.08" class="lg">10 eV</text>
<line x1="680.0" y1="113.01" x2="699.5" y2="113.01" stroke="#ff7a26" stroke-width="2"/>
<text x="704.0" y="116.31" class="lg">15 eV</text>
<line x1="680.0" y1="125.24" x2="699.5" y2="125.24" stroke="#f01818" stroke-width="2"/>
<text x="704.0" y="128.54" class="lg">20 eV</text>
<line x1="680.0" y1="137.47" x2="699.5" y2="137.47" stroke="#a01414" stroke-width="2"/>
<text x="704.0" y="140.77" class="lg">30 eV</text>
<line x1="680.0" y1="149.70" x2="699.5" y2="149.70" stroke="#ff9ccc" stroke-width="2"/>
<text x="704.0" y="153.00" class="lg">40 eV</text>
<line x1="680.0" y1="161.93" x2="699.5" y2="161.93" stroke="#ff10ff" stroke-width="2"/>
<text x="704.0" y="165.23" class="lg">50 eV</text>
<line x1="680.0" y1="174.16" x2="699.5" y2="174.16" stroke="#b400d8" stroke-width="2"/>
<text x="704.0" y="177.46" class="lg">70 eV</text>
<line x1="680.0" y1="186.39" x2="699.5" y2="186.39" stroke="#3c0a6a" stroke-width="2"/>
<text x="704.0" y="189.69" class="lg">100 eV</text>
<text x="155.4" y="48.8" style="font-size:13.8px">(a)</text>
<text x="529.4" y="52.8" style="font-size:12.7px">(b)</text>
<text x="149.2" y="356.1" style="font-size:13px" textLength="132.5" lengthAdjust="spacingAndGlyphs">Scattering angle (deg)</text>
<text x="527.1" y="350.6" style="font-size:12.8px" textLength="127.7" lengthAdjust="spacingAndGlyphs">Scattering angle (deg)</text>
<text transform="translate(23.6,299.3) rotate(-90)" style="font-size:13px">Elastic differential cross section (<tspan dx="1.5">10</tspan><tspan dy="-5" style="font-size:9px">-20</tspan><tspan dy="5"> m</tspan><tspan dy="-5" style="font-size:9px">2</tspan><tspan dy="5">/sr)</tspan></text>
<text transform="translate(395.8,307.4) rotate(-90)" style="font-size:12.5px">Rotational differential cross section (<tspan dx="1.5">10</tspan><tspan dy="-5" style="font-size:8.5px">-20</tspan><tspan dy="5"> m</tspan><tspan dy="-5" style="font-size:8.5px">2</tspan><tspan dy="5">/sr)</tspan></text>
</svg>
</body></html>
